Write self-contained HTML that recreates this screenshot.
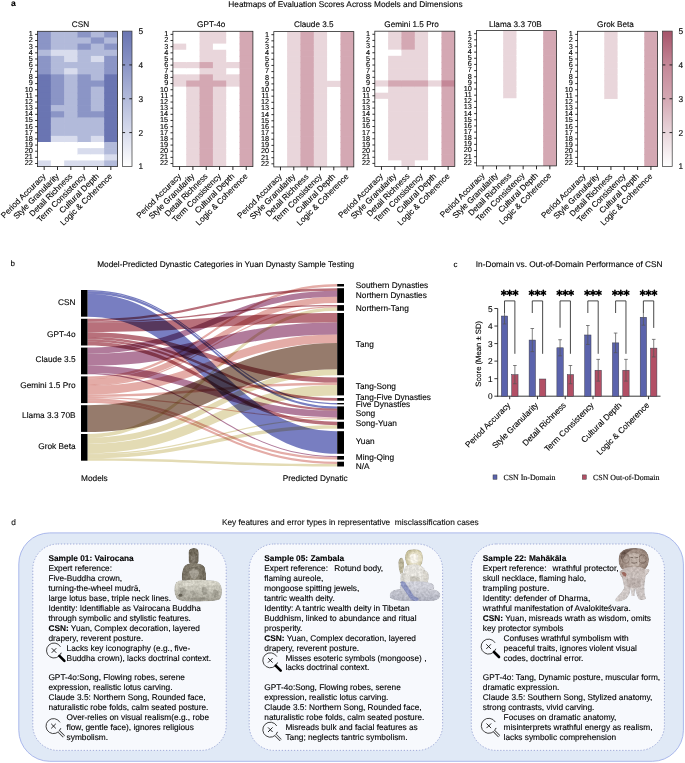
<!DOCTYPE html>
<html><head><meta charset="utf-8"><style>
html,body{margin:0;padding:0;background:#fff;}
body{width:685px;height:763px;position:relative;overflow:hidden;font-family:"Liberation Sans", sans-serif;}
svg{position:absolute;left:0;top:0;}
svg text{font-family:"Liberation Sans", sans-serif;text-rendering:geometricPrecision;stroke:#000;stroke-width:0.11px;}
</style></head><body>
<svg width="685" height="763" viewBox="0 0 685 763">
<rect x="37.50" y="31.30" width="14.03" height="6.85" fill="rgb(139,149,198)"/>
<rect x="37.50" y="37.45" width="14.03" height="6.85" fill="rgb(139,149,198)"/>
<rect x="37.50" y="43.60" width="14.03" height="6.85" fill="rgb(139,149,198)"/>
<rect x="37.50" y="49.75" width="14.03" height="6.85" fill="rgb(178,186,218)"/>
<rect x="37.50" y="55.90" width="14.03" height="6.85" fill="rgb(139,149,198)"/>
<rect x="37.50" y="62.05" width="14.03" height="6.85" fill="rgb(139,149,198)"/>
<rect x="37.50" y="68.20" width="14.03" height="6.85" fill="rgb(139,149,198)"/>
<rect x="37.50" y="74.35" width="14.03" height="6.85" fill="rgb(106,117,178)"/>
<rect x="37.50" y="80.50" width="14.03" height="6.85" fill="rgb(106,117,178)"/>
<rect x="37.50" y="86.65" width="14.03" height="6.85" fill="rgb(106,117,178)"/>
<rect x="37.50" y="92.80" width="14.03" height="6.85" fill="rgb(106,117,178)"/>
<rect x="37.50" y="98.95" width="14.03" height="6.85" fill="rgb(106,117,178)"/>
<rect x="37.50" y="105.10" width="14.03" height="6.85" fill="rgb(106,117,178)"/>
<rect x="37.50" y="111.25" width="14.03" height="6.85" fill="rgb(106,117,178)"/>
<rect x="37.50" y="117.40" width="14.03" height="6.85" fill="rgb(106,117,178)"/>
<rect x="37.50" y="123.55" width="14.03" height="6.85" fill="rgb(106,117,178)"/>
<rect x="37.50" y="129.70" width="14.03" height="6.85" fill="rgb(106,117,178)"/>
<rect x="37.50" y="135.85" width="14.03" height="6.85" fill="rgb(106,117,178)"/>
<rect x="37.50" y="142.00" width="14.03" height="6.85" fill="rgb(255,255,255)"/>
<rect x="37.50" y="148.15" width="14.03" height="6.85" fill="rgb(255,255,255)"/>
<rect x="37.50" y="154.30" width="14.03" height="6.85" fill="rgb(255,255,255)"/>
<rect x="37.50" y="160.45" width="14.03" height="6.15" fill="rgb(216,220,237)"/>
<rect x="50.83" y="31.30" width="14.03" height="6.85" fill="rgb(178,186,218)"/>
<rect x="50.83" y="37.45" width="14.03" height="6.85" fill="rgb(178,186,218)"/>
<rect x="50.83" y="43.60" width="14.03" height="6.85" fill="rgb(178,186,218)"/>
<rect x="50.83" y="49.75" width="14.03" height="6.85" fill="rgb(216,220,237)"/>
<rect x="50.83" y="55.90" width="14.03" height="6.85" fill="rgb(178,186,218)"/>
<rect x="50.83" y="62.05" width="14.03" height="6.85" fill="rgb(178,186,218)"/>
<rect x="50.83" y="68.20" width="14.03" height="6.85" fill="rgb(178,186,218)"/>
<rect x="50.83" y="74.35" width="14.03" height="6.85" fill="rgb(139,149,198)"/>
<rect x="50.83" y="80.50" width="14.03" height="6.85" fill="rgb(139,149,198)"/>
<rect x="50.83" y="86.65" width="14.03" height="6.85" fill="rgb(139,149,198)"/>
<rect x="50.83" y="92.80" width="14.03" height="6.85" fill="rgb(139,149,198)"/>
<rect x="50.83" y="98.95" width="14.03" height="6.85" fill="rgb(139,149,198)"/>
<rect x="50.83" y="105.10" width="14.03" height="6.85" fill="rgb(178,186,218)"/>
<rect x="50.83" y="111.25" width="14.03" height="6.85" fill="rgb(139,149,198)"/>
<rect x="50.83" y="117.40" width="14.03" height="6.85" fill="rgb(178,186,218)"/>
<rect x="50.83" y="123.55" width="14.03" height="6.85" fill="rgb(178,186,218)"/>
<rect x="50.83" y="129.70" width="14.03" height="6.85" fill="rgb(178,186,218)"/>
<rect x="50.83" y="135.85" width="14.03" height="6.85" fill="rgb(216,220,237)"/>
<rect x="50.83" y="142.00" width="14.03" height="6.85" fill="rgb(255,255,255)"/>
<rect x="50.83" y="148.15" width="14.03" height="6.85" fill="rgb(255,255,255)"/>
<rect x="50.83" y="154.30" width="14.03" height="6.85" fill="rgb(255,255,255)"/>
<rect x="50.83" y="160.45" width="14.03" height="6.15" fill="rgb(255,255,255)"/>
<rect x="64.17" y="31.30" width="14.03" height="6.85" fill="rgb(178,186,218)"/>
<rect x="64.17" y="37.45" width="14.03" height="6.85" fill="rgb(178,186,218)"/>
<rect x="64.17" y="43.60" width="14.03" height="6.85" fill="rgb(178,186,218)"/>
<rect x="64.17" y="49.75" width="14.03" height="6.85" fill="rgb(216,220,237)"/>
<rect x="64.17" y="55.90" width="14.03" height="6.85" fill="rgb(216,220,237)"/>
<rect x="64.17" y="62.05" width="14.03" height="6.85" fill="rgb(178,186,218)"/>
<rect x="64.17" y="68.20" width="14.03" height="6.85" fill="rgb(216,220,237)"/>
<rect x="64.17" y="74.35" width="14.03" height="6.85" fill="rgb(178,186,218)"/>
<rect x="64.17" y="80.50" width="14.03" height="6.85" fill="rgb(178,186,218)"/>
<rect x="64.17" y="86.65" width="14.03" height="6.85" fill="rgb(178,186,218)"/>
<rect x="64.17" y="92.80" width="14.03" height="6.85" fill="rgb(178,186,218)"/>
<rect x="64.17" y="98.95" width="14.03" height="6.85" fill="rgb(178,186,218)"/>
<rect x="64.17" y="105.10" width="14.03" height="6.85" fill="rgb(178,186,218)"/>
<rect x="64.17" y="111.25" width="14.03" height="6.85" fill="rgb(178,186,218)"/>
<rect x="64.17" y="117.40" width="14.03" height="6.85" fill="rgb(178,186,218)"/>
<rect x="64.17" y="123.55" width="14.03" height="6.85" fill="rgb(178,186,218)"/>
<rect x="64.17" y="129.70" width="14.03" height="6.85" fill="rgb(178,186,218)"/>
<rect x="64.17" y="135.85" width="14.03" height="6.85" fill="rgb(216,220,237)"/>
<rect x="64.17" y="142.00" width="14.03" height="6.85" fill="rgb(255,255,255)"/>
<rect x="64.17" y="148.15" width="14.03" height="6.85" fill="rgb(255,255,255)"/>
<rect x="64.17" y="154.30" width="14.03" height="6.85" fill="rgb(255,255,255)"/>
<rect x="64.17" y="160.45" width="14.03" height="6.15" fill="rgb(216,220,237)"/>
<rect x="77.50" y="31.30" width="14.03" height="6.85" fill="rgb(139,149,198)"/>
<rect x="77.50" y="37.45" width="14.03" height="6.85" fill="rgb(178,186,218)"/>
<rect x="77.50" y="43.60" width="14.03" height="6.85" fill="rgb(139,149,198)"/>
<rect x="77.50" y="49.75" width="14.03" height="6.85" fill="rgb(178,186,218)"/>
<rect x="77.50" y="55.90" width="14.03" height="6.85" fill="rgb(178,186,218)"/>
<rect x="77.50" y="62.05" width="14.03" height="6.85" fill="rgb(178,186,218)"/>
<rect x="77.50" y="68.20" width="14.03" height="6.85" fill="rgb(178,186,218)"/>
<rect x="77.50" y="74.35" width="14.03" height="6.85" fill="rgb(139,149,198)"/>
<rect x="77.50" y="80.50" width="14.03" height="6.85" fill="rgb(139,149,198)"/>
<rect x="77.50" y="86.65" width="14.03" height="6.85" fill="rgb(139,149,198)"/>
<rect x="77.50" y="92.80" width="14.03" height="6.85" fill="rgb(139,149,198)"/>
<rect x="77.50" y="98.95" width="14.03" height="6.85" fill="rgb(139,149,198)"/>
<rect x="77.50" y="105.10" width="14.03" height="6.85" fill="rgb(139,149,198)"/>
<rect x="77.50" y="111.25" width="14.03" height="6.85" fill="rgb(139,149,198)"/>
<rect x="77.50" y="117.40" width="14.03" height="6.85" fill="rgb(178,186,218)"/>
<rect x="77.50" y="123.55" width="14.03" height="6.85" fill="rgb(178,186,218)"/>
<rect x="77.50" y="129.70" width="14.03" height="6.85" fill="rgb(178,186,218)"/>
<rect x="77.50" y="135.85" width="14.03" height="6.85" fill="rgb(178,186,218)"/>
<rect x="77.50" y="142.00" width="14.03" height="6.85" fill="rgb(255,255,255)"/>
<rect x="77.50" y="148.15" width="14.03" height="6.85" fill="rgb(216,220,237)"/>
<rect x="77.50" y="154.30" width="14.03" height="6.85" fill="rgb(255,255,255)"/>
<rect x="77.50" y="160.45" width="14.03" height="6.15" fill="rgb(216,220,237)"/>
<rect x="90.83" y="31.30" width="14.03" height="6.85" fill="rgb(178,186,218)"/>
<rect x="90.83" y="37.45" width="14.03" height="6.85" fill="rgb(139,149,198)"/>
<rect x="90.83" y="43.60" width="14.03" height="6.85" fill="rgb(178,186,218)"/>
<rect x="90.83" y="49.75" width="14.03" height="6.85" fill="rgb(178,186,218)"/>
<rect x="90.83" y="55.90" width="14.03" height="6.85" fill="rgb(216,220,237)"/>
<rect x="90.83" y="62.05" width="14.03" height="6.85" fill="rgb(178,186,218)"/>
<rect x="90.83" y="68.20" width="14.03" height="6.85" fill="rgb(178,186,218)"/>
<rect x="90.83" y="74.35" width="14.03" height="6.85" fill="rgb(178,186,218)"/>
<rect x="90.83" y="80.50" width="14.03" height="6.85" fill="rgb(139,149,198)"/>
<rect x="90.83" y="86.65" width="14.03" height="6.85" fill="rgb(178,186,218)"/>
<rect x="90.83" y="92.80" width="14.03" height="6.85" fill="rgb(178,186,218)"/>
<rect x="90.83" y="98.95" width="14.03" height="6.85" fill="rgb(178,186,218)"/>
<rect x="90.83" y="105.10" width="14.03" height="6.85" fill="rgb(178,186,218)"/>
<rect x="90.83" y="111.25" width="14.03" height="6.85" fill="rgb(139,149,198)"/>
<rect x="90.83" y="117.40" width="14.03" height="6.85" fill="rgb(178,186,218)"/>
<rect x="90.83" y="123.55" width="14.03" height="6.85" fill="rgb(178,186,218)"/>
<rect x="90.83" y="129.70" width="14.03" height="6.85" fill="rgb(178,186,218)"/>
<rect x="90.83" y="135.85" width="14.03" height="6.85" fill="rgb(216,220,237)"/>
<rect x="90.83" y="142.00" width="14.03" height="6.85" fill="rgb(255,255,255)"/>
<rect x="90.83" y="148.15" width="14.03" height="6.85" fill="rgb(216,220,237)"/>
<rect x="90.83" y="154.30" width="14.03" height="6.85" fill="rgb(255,255,255)"/>
<rect x="90.83" y="160.45" width="14.03" height="6.15" fill="rgb(216,220,237)"/>
<rect x="104.17" y="31.30" width="13.33" height="6.85" fill="rgb(139,149,198)"/>
<rect x="104.17" y="37.45" width="13.33" height="6.85" fill="rgb(178,186,218)"/>
<rect x="104.17" y="43.60" width="13.33" height="6.85" fill="rgb(139,149,198)"/>
<rect x="104.17" y="49.75" width="13.33" height="6.85" fill="rgb(178,186,218)"/>
<rect x="104.17" y="55.90" width="13.33" height="6.85" fill="rgb(139,149,198)"/>
<rect x="104.17" y="62.05" width="13.33" height="6.85" fill="rgb(139,149,198)"/>
<rect x="104.17" y="68.20" width="13.33" height="6.85" fill="rgb(139,149,198)"/>
<rect x="104.17" y="74.35" width="13.33" height="6.85" fill="rgb(106,117,178)"/>
<rect x="104.17" y="80.50" width="13.33" height="6.85" fill="rgb(106,117,178)"/>
<rect x="104.17" y="86.65" width="13.33" height="6.85" fill="rgb(106,117,178)"/>
<rect x="104.17" y="92.80" width="13.33" height="6.85" fill="rgb(106,117,178)"/>
<rect x="104.17" y="98.95" width="13.33" height="6.85" fill="rgb(106,117,178)"/>
<rect x="104.17" y="105.10" width="13.33" height="6.85" fill="rgb(106,117,178)"/>
<rect x="104.17" y="111.25" width="13.33" height="6.85" fill="rgb(106,117,178)"/>
<rect x="104.17" y="117.40" width="13.33" height="6.85" fill="rgb(106,117,178)"/>
<rect x="104.17" y="123.55" width="13.33" height="6.85" fill="rgb(106,117,178)"/>
<rect x="104.17" y="129.70" width="13.33" height="6.85" fill="rgb(106,117,178)"/>
<rect x="104.17" y="135.85" width="13.33" height="6.85" fill="rgb(106,117,178)"/>
<rect x="104.17" y="142.00" width="13.33" height="6.85" fill="rgb(178,186,218)"/>
<rect x="104.17" y="148.15" width="13.33" height="6.85" fill="rgb(178,186,218)"/>
<rect x="104.17" y="154.30" width="13.33" height="6.85" fill="rgb(216,220,237)"/>
<rect x="104.17" y="160.45" width="13.33" height="6.15" fill="rgb(178,186,218)"/>
<rect x="37.50" y="31.30" width="80.0" height="135.3" fill="none" stroke="#2a2a2a" stroke-width="0.8"/>
<text x="80.50" y="27.00" font-size="8.2" text-anchor="middle" font-weight="normal" fill="#000" >CSN</text>
<line x1="35.10" y1="34.38" x2="37.50" y2="34.38" stroke="#111" stroke-width="0.85"/>
<text x="32.80" y="36.27" font-size="7.3" text-anchor="end" font-weight="normal" fill="#000" >1</text>
<line x1="35.10" y1="40.53" x2="37.50" y2="40.53" stroke="#111" stroke-width="0.85"/>
<text x="32.80" y="42.43" font-size="7.3" text-anchor="end" font-weight="normal" fill="#000" >2</text>
<line x1="35.10" y1="46.67" x2="37.50" y2="46.67" stroke="#111" stroke-width="0.85"/>
<text x="32.80" y="48.57" font-size="7.3" text-anchor="end" font-weight="normal" fill="#000" >3</text>
<line x1="35.10" y1="52.83" x2="37.50" y2="52.83" stroke="#111" stroke-width="0.85"/>
<text x="32.80" y="54.73" font-size="7.3" text-anchor="end" font-weight="normal" fill="#000" >4</text>
<line x1="35.10" y1="58.98" x2="37.50" y2="58.98" stroke="#111" stroke-width="0.85"/>
<text x="32.80" y="60.88" font-size="7.3" text-anchor="end" font-weight="normal" fill="#000" >5</text>
<line x1="35.10" y1="65.12" x2="37.50" y2="65.12" stroke="#111" stroke-width="0.85"/>
<text x="32.80" y="67.03" font-size="7.3" text-anchor="end" font-weight="normal" fill="#000" >6</text>
<line x1="35.10" y1="71.28" x2="37.50" y2="71.28" stroke="#111" stroke-width="0.85"/>
<text x="32.80" y="73.18" font-size="7.3" text-anchor="end" font-weight="normal" fill="#000" >7</text>
<line x1="35.10" y1="77.42" x2="37.50" y2="77.42" stroke="#111" stroke-width="0.85"/>
<text x="32.80" y="79.33" font-size="7.3" text-anchor="end" font-weight="normal" fill="#000" >8</text>
<line x1="35.10" y1="83.58" x2="37.50" y2="83.58" stroke="#111" stroke-width="0.85"/>
<text x="32.80" y="85.48" font-size="7.3" text-anchor="end" font-weight="normal" fill="#000" >9</text>
<line x1="35.10" y1="89.73" x2="37.50" y2="89.73" stroke="#111" stroke-width="0.85"/>
<text x="32.80" y="91.63" font-size="7.3" text-anchor="end" font-weight="normal" fill="#000" >10</text>
<line x1="35.10" y1="95.88" x2="37.50" y2="95.88" stroke="#111" stroke-width="0.85"/>
<text x="32.80" y="97.78" font-size="7.3" text-anchor="end" font-weight="normal" fill="#000" >11</text>
<line x1="35.10" y1="102.03" x2="37.50" y2="102.03" stroke="#111" stroke-width="0.85"/>
<text x="32.80" y="103.93" font-size="7.3" text-anchor="end" font-weight="normal" fill="#000" >12</text>
<line x1="35.10" y1="108.17" x2="37.50" y2="108.17" stroke="#111" stroke-width="0.85"/>
<text x="32.80" y="110.08" font-size="7.3" text-anchor="end" font-weight="normal" fill="#000" >13</text>
<line x1="35.10" y1="114.33" x2="37.50" y2="114.33" stroke="#111" stroke-width="0.85"/>
<text x="32.80" y="116.23" font-size="7.3" text-anchor="end" font-weight="normal" fill="#000" >14</text>
<line x1="35.10" y1="120.48" x2="37.50" y2="120.48" stroke="#111" stroke-width="0.85"/>
<text x="32.80" y="122.38" font-size="7.3" text-anchor="end" font-weight="normal" fill="#000" >15</text>
<line x1="35.10" y1="126.62" x2="37.50" y2="126.62" stroke="#111" stroke-width="0.85"/>
<text x="32.80" y="128.53" font-size="7.3" text-anchor="end" font-weight="normal" fill="#000" >16</text>
<line x1="35.10" y1="132.78" x2="37.50" y2="132.78" stroke="#111" stroke-width="0.85"/>
<text x="32.80" y="134.68" font-size="7.3" text-anchor="end" font-weight="normal" fill="#000" >17</text>
<line x1="35.10" y1="138.93" x2="37.50" y2="138.93" stroke="#111" stroke-width="0.85"/>
<text x="32.80" y="140.83" font-size="7.3" text-anchor="end" font-weight="normal" fill="#000" >18</text>
<line x1="35.10" y1="145.08" x2="37.50" y2="145.08" stroke="#111" stroke-width="0.85"/>
<text x="32.80" y="146.98" font-size="7.3" text-anchor="end" font-weight="normal" fill="#000" >19</text>
<line x1="35.10" y1="151.23" x2="37.50" y2="151.23" stroke="#111" stroke-width="0.85"/>
<text x="32.80" y="153.13" font-size="7.3" text-anchor="end" font-weight="normal" fill="#000" >20</text>
<line x1="35.10" y1="157.38" x2="37.50" y2="157.38" stroke="#111" stroke-width="0.85"/>
<text x="32.80" y="159.28" font-size="7.3" text-anchor="end" font-weight="normal" fill="#000" >21</text>
<line x1="35.10" y1="163.53" x2="37.50" y2="163.53" stroke="#111" stroke-width="0.85"/>
<text x="32.80" y="165.43" font-size="7.3" text-anchor="end" font-weight="normal" fill="#000" >22</text>
<line x1="44.17" y1="166.60" x2="44.17" y2="170.00" stroke="#111" stroke-width="0.9"/>
<text x="46.17" y="176.80" font-size="8.2" text-anchor="end" font-weight="normal" fill="#000" transform="rotate(-45 46.17 176.80)">Period Accuracy</text>
<line x1="57.50" y1="166.60" x2="57.50" y2="170.00" stroke="#111" stroke-width="0.9"/>
<text x="59.50" y="176.80" font-size="8.2" text-anchor="end" font-weight="normal" fill="#000" transform="rotate(-45 59.50 176.80)">Style Granularity</text>
<line x1="70.83" y1="166.60" x2="70.83" y2="170.00" stroke="#111" stroke-width="0.9"/>
<text x="72.83" y="176.80" font-size="8.2" text-anchor="end" font-weight="normal" fill="#000" transform="rotate(-45 72.83 176.80)">Detail Richness</text>
<line x1="84.17" y1="166.60" x2="84.17" y2="170.00" stroke="#111" stroke-width="0.9"/>
<text x="86.17" y="176.80" font-size="8.2" text-anchor="end" font-weight="normal" fill="#000" transform="rotate(-45 86.17 176.80)">Term Consistency</text>
<line x1="97.50" y1="166.60" x2="97.50" y2="170.00" stroke="#111" stroke-width="0.9"/>
<text x="99.50" y="176.80" font-size="8.2" text-anchor="end" font-weight="normal" fill="#000" transform="rotate(-45 99.50 176.80)">Cultural Depth</text>
<line x1="110.83" y1="166.60" x2="110.83" y2="170.00" stroke="#111" stroke-width="0.9"/>
<text x="112.83" y="176.80" font-size="8.2" text-anchor="end" font-weight="normal" fill="#000" transform="rotate(-45 112.83 176.80)">Logic &amp; Coherence</text>
<rect x="172.90" y="31.30" width="14.03" height="6.85" fill="rgb(255,255,255)"/>
<rect x="172.90" y="37.45" width="14.03" height="6.85" fill="rgb(255,255,255)"/>
<rect x="172.90" y="43.60" width="14.03" height="6.85" fill="rgb(233,214,219)"/>
<rect x="172.90" y="49.75" width="14.03" height="6.85" fill="rgb(255,255,255)"/>
<rect x="172.90" y="55.90" width="14.03" height="6.85" fill="rgb(255,255,255)"/>
<rect x="172.90" y="62.05" width="14.03" height="6.85" fill="rgb(233,214,219)"/>
<rect x="172.90" y="68.20" width="14.03" height="6.85" fill="rgb(255,255,255)"/>
<rect x="172.90" y="74.35" width="14.03" height="6.85" fill="rgb(233,214,219)"/>
<rect x="172.90" y="80.50" width="14.03" height="6.85" fill="rgb(233,214,219)"/>
<rect x="172.90" y="86.65" width="14.03" height="6.85" fill="rgb(255,255,255)"/>
<rect x="172.90" y="92.80" width="14.03" height="6.85" fill="rgb(255,255,255)"/>
<rect x="172.90" y="98.95" width="14.03" height="6.85" fill="rgb(255,255,255)"/>
<rect x="172.90" y="105.10" width="14.03" height="6.85" fill="rgb(255,255,255)"/>
<rect x="172.90" y="111.25" width="14.03" height="6.85" fill="rgb(255,255,255)"/>
<rect x="172.90" y="117.40" width="14.03" height="6.85" fill="rgb(255,255,255)"/>
<rect x="172.90" y="123.55" width="14.03" height="6.85" fill="rgb(255,255,255)"/>
<rect x="172.90" y="129.70" width="14.03" height="6.85" fill="rgb(255,255,255)"/>
<rect x="172.90" y="135.85" width="14.03" height="6.85" fill="rgb(255,255,255)"/>
<rect x="172.90" y="142.00" width="14.03" height="6.85" fill="rgb(255,255,255)"/>
<rect x="172.90" y="148.15" width="14.03" height="6.85" fill="rgb(255,255,255)"/>
<rect x="172.90" y="154.30" width="14.03" height="6.85" fill="rgb(255,255,255)"/>
<rect x="172.90" y="160.45" width="14.03" height="6.15" fill="rgb(255,255,255)"/>
<rect x="186.23" y="31.30" width="14.03" height="6.85" fill="rgb(255,255,255)"/>
<rect x="186.23" y="37.45" width="14.03" height="6.85" fill="rgb(255,255,255)"/>
<rect x="186.23" y="43.60" width="14.03" height="6.85" fill="rgb(255,255,255)"/>
<rect x="186.23" y="49.75" width="14.03" height="6.85" fill="rgb(255,255,255)"/>
<rect x="186.23" y="55.90" width="14.03" height="6.85" fill="rgb(255,255,255)"/>
<rect x="186.23" y="62.05" width="14.03" height="6.85" fill="rgb(233,214,219)"/>
<rect x="186.23" y="68.20" width="14.03" height="6.85" fill="rgb(255,255,255)"/>
<rect x="186.23" y="74.35" width="14.03" height="6.85" fill="rgb(233,214,219)"/>
<rect x="186.23" y="80.50" width="14.03" height="6.85" fill="rgb(212,168,179)"/>
<rect x="186.23" y="86.65" width="14.03" height="6.85" fill="rgb(233,214,219)"/>
<rect x="186.23" y="92.80" width="14.03" height="6.85" fill="rgb(233,214,219)"/>
<rect x="186.23" y="98.95" width="14.03" height="6.85" fill="rgb(233,214,219)"/>
<rect x="186.23" y="105.10" width="14.03" height="6.85" fill="rgb(233,214,219)"/>
<rect x="186.23" y="111.25" width="14.03" height="6.85" fill="rgb(233,214,219)"/>
<rect x="186.23" y="117.40" width="14.03" height="6.85" fill="rgb(233,214,219)"/>
<rect x="186.23" y="123.55" width="14.03" height="6.85" fill="rgb(233,214,219)"/>
<rect x="186.23" y="129.70" width="14.03" height="6.85" fill="rgb(233,214,219)"/>
<rect x="186.23" y="135.85" width="14.03" height="6.85" fill="rgb(233,214,219)"/>
<rect x="186.23" y="142.00" width="14.03" height="6.85" fill="rgb(233,214,219)"/>
<rect x="186.23" y="148.15" width="14.03" height="6.85" fill="rgb(233,214,219)"/>
<rect x="186.23" y="154.30" width="14.03" height="6.85" fill="rgb(233,214,219)"/>
<rect x="186.23" y="160.45" width="14.03" height="6.15" fill="rgb(233,214,219)"/>
<rect x="199.57" y="31.30" width="14.03" height="6.85" fill="rgb(233,214,219)"/>
<rect x="199.57" y="37.45" width="14.03" height="6.85" fill="rgb(233,214,219)"/>
<rect x="199.57" y="43.60" width="14.03" height="6.85" fill="rgb(233,214,219)"/>
<rect x="199.57" y="49.75" width="14.03" height="6.85" fill="rgb(233,214,219)"/>
<rect x="199.57" y="55.90" width="14.03" height="6.85" fill="rgb(233,214,219)"/>
<rect x="199.57" y="62.05" width="14.03" height="6.85" fill="rgb(212,168,179)"/>
<rect x="199.57" y="68.20" width="14.03" height="6.85" fill="rgb(233,214,219)"/>
<rect x="199.57" y="74.35" width="14.03" height="6.85" fill="rgb(212,168,179)"/>
<rect x="199.57" y="80.50" width="14.03" height="6.85" fill="rgb(212,168,179)"/>
<rect x="199.57" y="86.65" width="14.03" height="6.85" fill="rgb(212,168,179)"/>
<rect x="199.57" y="92.80" width="14.03" height="6.85" fill="rgb(212,168,179)"/>
<rect x="199.57" y="98.95" width="14.03" height="6.85" fill="rgb(212,168,179)"/>
<rect x="199.57" y="105.10" width="14.03" height="6.85" fill="rgb(212,168,179)"/>
<rect x="199.57" y="111.25" width="14.03" height="6.85" fill="rgb(212,168,179)"/>
<rect x="199.57" y="117.40" width="14.03" height="6.85" fill="rgb(212,168,179)"/>
<rect x="199.57" y="123.55" width="14.03" height="6.85" fill="rgb(212,168,179)"/>
<rect x="199.57" y="129.70" width="14.03" height="6.85" fill="rgb(212,168,179)"/>
<rect x="199.57" y="135.85" width="14.03" height="6.85" fill="rgb(212,168,179)"/>
<rect x="199.57" y="142.00" width="14.03" height="6.85" fill="rgb(212,168,179)"/>
<rect x="199.57" y="148.15" width="14.03" height="6.85" fill="rgb(212,168,179)"/>
<rect x="199.57" y="154.30" width="14.03" height="6.85" fill="rgb(212,168,179)"/>
<rect x="199.57" y="160.45" width="14.03" height="6.15" fill="rgb(212,168,179)"/>
<rect x="212.90" y="31.30" width="14.03" height="6.85" fill="rgb(233,214,219)"/>
<rect x="212.90" y="37.45" width="14.03" height="6.85" fill="rgb(233,214,219)"/>
<rect x="212.90" y="43.60" width="14.03" height="6.85" fill="rgb(255,255,255)"/>
<rect x="212.90" y="49.75" width="14.03" height="6.85" fill="rgb(233,214,219)"/>
<rect x="212.90" y="55.90" width="14.03" height="6.85" fill="rgb(233,214,219)"/>
<rect x="212.90" y="62.05" width="14.03" height="6.85" fill="rgb(233,214,219)"/>
<rect x="212.90" y="68.20" width="14.03" height="6.85" fill="rgb(233,214,219)"/>
<rect x="212.90" y="74.35" width="14.03" height="6.85" fill="rgb(233,214,219)"/>
<rect x="212.90" y="80.50" width="14.03" height="6.85" fill="rgb(212,168,179)"/>
<rect x="212.90" y="86.65" width="14.03" height="6.85" fill="rgb(233,214,219)"/>
<rect x="212.90" y="92.80" width="14.03" height="6.85" fill="rgb(233,214,219)"/>
<rect x="212.90" y="98.95" width="14.03" height="6.85" fill="rgb(233,214,219)"/>
<rect x="212.90" y="105.10" width="14.03" height="6.85" fill="rgb(233,214,219)"/>
<rect x="212.90" y="111.25" width="14.03" height="6.85" fill="rgb(233,214,219)"/>
<rect x="212.90" y="117.40" width="14.03" height="6.85" fill="rgb(233,214,219)"/>
<rect x="212.90" y="123.55" width="14.03" height="6.85" fill="rgb(233,214,219)"/>
<rect x="212.90" y="129.70" width="14.03" height="6.85" fill="rgb(233,214,219)"/>
<rect x="212.90" y="135.85" width="14.03" height="6.85" fill="rgb(233,214,219)"/>
<rect x="212.90" y="142.00" width="14.03" height="6.85" fill="rgb(233,214,219)"/>
<rect x="212.90" y="148.15" width="14.03" height="6.85" fill="rgb(233,214,219)"/>
<rect x="212.90" y="154.30" width="14.03" height="6.85" fill="rgb(233,214,219)"/>
<rect x="212.90" y="160.45" width="14.03" height="6.15" fill="rgb(233,214,219)"/>
<rect x="226.23" y="31.30" width="14.03" height="6.85" fill="rgb(255,255,255)"/>
<rect x="226.23" y="37.45" width="14.03" height="6.85" fill="rgb(255,255,255)"/>
<rect x="226.23" y="43.60" width="14.03" height="6.85" fill="rgb(255,255,255)"/>
<rect x="226.23" y="49.75" width="14.03" height="6.85" fill="rgb(255,255,255)"/>
<rect x="226.23" y="55.90" width="14.03" height="6.85" fill="rgb(255,255,255)"/>
<rect x="226.23" y="62.05" width="14.03" height="6.85" fill="rgb(233,214,219)"/>
<rect x="226.23" y="68.20" width="14.03" height="6.85" fill="rgb(255,255,255)"/>
<rect x="226.23" y="74.35" width="14.03" height="6.85" fill="rgb(233,214,219)"/>
<rect x="226.23" y="80.50" width="14.03" height="6.85" fill="rgb(233,214,219)"/>
<rect x="226.23" y="86.65" width="14.03" height="6.85" fill="rgb(255,255,255)"/>
<rect x="226.23" y="92.80" width="14.03" height="6.85" fill="rgb(255,255,255)"/>
<rect x="226.23" y="98.95" width="14.03" height="6.85" fill="rgb(255,255,255)"/>
<rect x="226.23" y="105.10" width="14.03" height="6.85" fill="rgb(255,255,255)"/>
<rect x="226.23" y="111.25" width="14.03" height="6.85" fill="rgb(255,255,255)"/>
<rect x="226.23" y="117.40" width="14.03" height="6.85" fill="rgb(255,255,255)"/>
<rect x="226.23" y="123.55" width="14.03" height="6.85" fill="rgb(255,255,255)"/>
<rect x="226.23" y="129.70" width="14.03" height="6.85" fill="rgb(255,255,255)"/>
<rect x="226.23" y="135.85" width="14.03" height="6.85" fill="rgb(255,255,255)"/>
<rect x="226.23" y="142.00" width="14.03" height="6.85" fill="rgb(255,255,255)"/>
<rect x="226.23" y="148.15" width="14.03" height="6.85" fill="rgb(255,255,255)"/>
<rect x="226.23" y="154.30" width="14.03" height="6.85" fill="rgb(255,255,255)"/>
<rect x="226.23" y="160.45" width="14.03" height="6.15" fill="rgb(255,255,255)"/>
<rect x="239.57" y="31.30" width="13.33" height="6.85" fill="rgb(212,168,179)"/>
<rect x="239.57" y="37.45" width="13.33" height="6.85" fill="rgb(212,168,179)"/>
<rect x="239.57" y="43.60" width="13.33" height="6.85" fill="rgb(212,168,179)"/>
<rect x="239.57" y="49.75" width="13.33" height="6.85" fill="rgb(212,168,179)"/>
<rect x="239.57" y="55.90" width="13.33" height="6.85" fill="rgb(212,168,179)"/>
<rect x="239.57" y="62.05" width="13.33" height="6.85" fill="rgb(212,168,179)"/>
<rect x="239.57" y="68.20" width="13.33" height="6.85" fill="rgb(212,168,179)"/>
<rect x="239.57" y="74.35" width="13.33" height="6.85" fill="rgb(212,168,179)"/>
<rect x="239.57" y="80.50" width="13.33" height="6.85" fill="rgb(212,168,179)"/>
<rect x="239.57" y="86.65" width="13.33" height="6.85" fill="rgb(212,168,179)"/>
<rect x="239.57" y="92.80" width="13.33" height="6.85" fill="rgb(212,168,179)"/>
<rect x="239.57" y="98.95" width="13.33" height="6.85" fill="rgb(212,168,179)"/>
<rect x="239.57" y="105.10" width="13.33" height="6.85" fill="rgb(212,168,179)"/>
<rect x="239.57" y="111.25" width="13.33" height="6.85" fill="rgb(212,168,179)"/>
<rect x="239.57" y="117.40" width="13.33" height="6.85" fill="rgb(212,168,179)"/>
<rect x="239.57" y="123.55" width="13.33" height="6.85" fill="rgb(212,168,179)"/>
<rect x="239.57" y="129.70" width="13.33" height="6.85" fill="rgb(212,168,179)"/>
<rect x="239.57" y="135.85" width="13.33" height="6.85" fill="rgb(212,168,179)"/>
<rect x="239.57" y="142.00" width="13.33" height="6.85" fill="rgb(212,168,179)"/>
<rect x="239.57" y="148.15" width="13.33" height="6.85" fill="rgb(212,168,179)"/>
<rect x="239.57" y="154.30" width="13.33" height="6.85" fill="rgb(212,168,179)"/>
<rect x="239.57" y="160.45" width="13.33" height="6.15" fill="rgb(212,168,179)"/>
<rect x="172.90" y="31.30" width="80.0" height="135.3" fill="none" stroke="#2a2a2a" stroke-width="0.8"/>
<text x="211.20" y="27.00" font-size="8.2" text-anchor="middle" font-weight="normal" fill="#000" >GPT-4o</text>
<line x1="170.50" y1="34.38" x2="172.90" y2="34.38" stroke="#111" stroke-width="0.85"/>
<text x="168.20" y="36.27" font-size="7.3" text-anchor="end" font-weight="normal" fill="#000" >1</text>
<line x1="170.50" y1="40.53" x2="172.90" y2="40.53" stroke="#111" stroke-width="0.85"/>
<text x="168.20" y="42.43" font-size="7.3" text-anchor="end" font-weight="normal" fill="#000" >2</text>
<line x1="170.50" y1="46.67" x2="172.90" y2="46.67" stroke="#111" stroke-width="0.85"/>
<text x="168.20" y="48.57" font-size="7.3" text-anchor="end" font-weight="normal" fill="#000" >3</text>
<line x1="170.50" y1="52.83" x2="172.90" y2="52.83" stroke="#111" stroke-width="0.85"/>
<text x="168.20" y="54.73" font-size="7.3" text-anchor="end" font-weight="normal" fill="#000" >4</text>
<line x1="170.50" y1="58.98" x2="172.90" y2="58.98" stroke="#111" stroke-width="0.85"/>
<text x="168.20" y="60.88" font-size="7.3" text-anchor="end" font-weight="normal" fill="#000" >5</text>
<line x1="170.50" y1="65.12" x2="172.90" y2="65.12" stroke="#111" stroke-width="0.85"/>
<text x="168.20" y="67.03" font-size="7.3" text-anchor="end" font-weight="normal" fill="#000" >6</text>
<line x1="170.50" y1="71.28" x2="172.90" y2="71.28" stroke="#111" stroke-width="0.85"/>
<text x="168.20" y="73.18" font-size="7.3" text-anchor="end" font-weight="normal" fill="#000" >7</text>
<line x1="170.50" y1="77.42" x2="172.90" y2="77.42" stroke="#111" stroke-width="0.85"/>
<text x="168.20" y="79.33" font-size="7.3" text-anchor="end" font-weight="normal" fill="#000" >8</text>
<line x1="170.50" y1="83.58" x2="172.90" y2="83.58" stroke="#111" stroke-width="0.85"/>
<text x="168.20" y="85.48" font-size="7.3" text-anchor="end" font-weight="normal" fill="#000" >9</text>
<line x1="170.50" y1="89.73" x2="172.90" y2="89.73" stroke="#111" stroke-width="0.85"/>
<text x="168.20" y="91.63" font-size="7.3" text-anchor="end" font-weight="normal" fill="#000" >10</text>
<line x1="170.50" y1="95.88" x2="172.90" y2="95.88" stroke="#111" stroke-width="0.85"/>
<text x="168.20" y="97.78" font-size="7.3" text-anchor="end" font-weight="normal" fill="#000" >11</text>
<line x1="170.50" y1="102.03" x2="172.90" y2="102.03" stroke="#111" stroke-width="0.85"/>
<text x="168.20" y="103.93" font-size="7.3" text-anchor="end" font-weight="normal" fill="#000" >12</text>
<line x1="170.50" y1="108.17" x2="172.90" y2="108.17" stroke="#111" stroke-width="0.85"/>
<text x="168.20" y="110.08" font-size="7.3" text-anchor="end" font-weight="normal" fill="#000" >13</text>
<line x1="170.50" y1="114.33" x2="172.90" y2="114.33" stroke="#111" stroke-width="0.85"/>
<text x="168.20" y="116.23" font-size="7.3" text-anchor="end" font-weight="normal" fill="#000" >14</text>
<line x1="170.50" y1="120.48" x2="172.90" y2="120.48" stroke="#111" stroke-width="0.85"/>
<text x="168.20" y="122.38" font-size="7.3" text-anchor="end" font-weight="normal" fill="#000" >15</text>
<line x1="170.50" y1="126.62" x2="172.90" y2="126.62" stroke="#111" stroke-width="0.85"/>
<text x="168.20" y="128.53" font-size="7.3" text-anchor="end" font-weight="normal" fill="#000" >16</text>
<line x1="170.50" y1="132.78" x2="172.90" y2="132.78" stroke="#111" stroke-width="0.85"/>
<text x="168.20" y="134.68" font-size="7.3" text-anchor="end" font-weight="normal" fill="#000" >17</text>
<line x1="170.50" y1="138.93" x2="172.90" y2="138.93" stroke="#111" stroke-width="0.85"/>
<text x="168.20" y="140.83" font-size="7.3" text-anchor="end" font-weight="normal" fill="#000" >18</text>
<line x1="170.50" y1="145.08" x2="172.90" y2="145.08" stroke="#111" stroke-width="0.85"/>
<text x="168.20" y="146.98" font-size="7.3" text-anchor="end" font-weight="normal" fill="#000" >19</text>
<line x1="170.50" y1="151.23" x2="172.90" y2="151.23" stroke="#111" stroke-width="0.85"/>
<text x="168.20" y="153.13" font-size="7.3" text-anchor="end" font-weight="normal" fill="#000" >20</text>
<line x1="170.50" y1="157.38" x2="172.90" y2="157.38" stroke="#111" stroke-width="0.85"/>
<text x="168.20" y="159.28" font-size="7.3" text-anchor="end" font-weight="normal" fill="#000" >21</text>
<line x1="170.50" y1="163.53" x2="172.90" y2="163.53" stroke="#111" stroke-width="0.85"/>
<text x="168.20" y="165.43" font-size="7.3" text-anchor="end" font-weight="normal" fill="#000" >22</text>
<line x1="179.57" y1="166.60" x2="179.57" y2="170.00" stroke="#111" stroke-width="0.9"/>
<text x="181.57" y="176.80" font-size="8.2" text-anchor="end" font-weight="normal" fill="#000" transform="rotate(-45 181.57 176.80)">Period Accuracy</text>
<line x1="192.90" y1="166.60" x2="192.90" y2="170.00" stroke="#111" stroke-width="0.9"/>
<text x="194.90" y="176.80" font-size="8.2" text-anchor="end" font-weight="normal" fill="#000" transform="rotate(-45 194.90 176.80)">Style Granularity</text>
<line x1="206.23" y1="166.60" x2="206.23" y2="170.00" stroke="#111" stroke-width="0.9"/>
<text x="208.23" y="176.80" font-size="8.2" text-anchor="end" font-weight="normal" fill="#000" transform="rotate(-45 208.23 176.80)">Detail Richness</text>
<line x1="219.57" y1="166.60" x2="219.57" y2="170.00" stroke="#111" stroke-width="0.9"/>
<text x="221.57" y="176.80" font-size="8.2" text-anchor="end" font-weight="normal" fill="#000" transform="rotate(-45 221.57 176.80)">Term Consistency</text>
<line x1="232.90" y1="166.60" x2="232.90" y2="170.00" stroke="#111" stroke-width="0.9"/>
<text x="234.90" y="176.80" font-size="8.2" text-anchor="end" font-weight="normal" fill="#000" transform="rotate(-45 234.90 176.80)">Cultural Depth</text>
<line x1="246.23" y1="166.60" x2="246.23" y2="170.00" stroke="#111" stroke-width="0.9"/>
<text x="248.23" y="176.80" font-size="8.2" text-anchor="end" font-weight="normal" fill="#000" transform="rotate(-45 248.23 176.80)">Logic &amp; Coherence</text>
<rect x="273.80" y="31.60" width="14.03" height="6.85" fill="rgb(255,255,255)"/>
<rect x="273.80" y="37.75" width="14.03" height="6.85" fill="rgb(255,255,255)"/>
<rect x="273.80" y="43.90" width="14.03" height="6.85" fill="rgb(255,255,255)"/>
<rect x="273.80" y="50.05" width="14.03" height="6.85" fill="rgb(255,255,255)"/>
<rect x="273.80" y="56.20" width="14.03" height="6.85" fill="rgb(255,255,255)"/>
<rect x="273.80" y="62.35" width="14.03" height="6.85" fill="rgb(255,255,255)"/>
<rect x="273.80" y="68.50" width="14.03" height="6.85" fill="rgb(255,255,255)"/>
<rect x="273.80" y="74.65" width="14.03" height="6.85" fill="rgb(255,255,255)"/>
<rect x="273.80" y="80.80" width="14.03" height="6.85" fill="rgb(255,255,255)"/>
<rect x="273.80" y="86.95" width="14.03" height="6.85" fill="rgb(255,255,255)"/>
<rect x="273.80" y="93.10" width="14.03" height="6.85" fill="rgb(255,255,255)"/>
<rect x="273.80" y="99.25" width="14.03" height="6.85" fill="rgb(255,255,255)"/>
<rect x="273.80" y="105.40" width="14.03" height="6.85" fill="rgb(255,255,255)"/>
<rect x="273.80" y="111.55" width="14.03" height="6.85" fill="rgb(255,255,255)"/>
<rect x="273.80" y="117.70" width="14.03" height="6.85" fill="rgb(255,255,255)"/>
<rect x="273.80" y="123.85" width="14.03" height="6.85" fill="rgb(255,255,255)"/>
<rect x="273.80" y="130.00" width="14.03" height="6.85" fill="rgb(255,255,255)"/>
<rect x="273.80" y="136.15" width="14.03" height="6.85" fill="rgb(255,255,255)"/>
<rect x="273.80" y="142.30" width="14.03" height="6.85" fill="rgb(255,255,255)"/>
<rect x="273.80" y="148.45" width="14.03" height="6.85" fill="rgb(255,255,255)"/>
<rect x="273.80" y="154.60" width="14.03" height="6.85" fill="rgb(255,255,255)"/>
<rect x="273.80" y="160.75" width="14.03" height="6.15" fill="rgb(255,255,255)"/>
<rect x="287.13" y="31.60" width="14.03" height="6.85" fill="rgb(233,214,219)"/>
<rect x="287.13" y="37.75" width="14.03" height="6.85" fill="rgb(233,214,219)"/>
<rect x="287.13" y="43.90" width="14.03" height="6.85" fill="rgb(233,214,219)"/>
<rect x="287.13" y="50.05" width="14.03" height="6.85" fill="rgb(233,214,219)"/>
<rect x="287.13" y="56.20" width="14.03" height="6.85" fill="rgb(233,214,219)"/>
<rect x="287.13" y="62.35" width="14.03" height="6.85" fill="rgb(233,214,219)"/>
<rect x="287.13" y="68.50" width="14.03" height="6.85" fill="rgb(233,214,219)"/>
<rect x="287.13" y="74.65" width="14.03" height="6.85" fill="rgb(233,214,219)"/>
<rect x="287.13" y="80.80" width="14.03" height="6.85" fill="rgb(233,214,219)"/>
<rect x="287.13" y="86.95" width="14.03" height="6.85" fill="rgb(233,214,219)"/>
<rect x="287.13" y="93.10" width="14.03" height="6.85" fill="rgb(233,214,219)"/>
<rect x="287.13" y="99.25" width="14.03" height="6.85" fill="rgb(233,214,219)"/>
<rect x="287.13" y="105.40" width="14.03" height="6.85" fill="rgb(233,214,219)"/>
<rect x="287.13" y="111.55" width="14.03" height="6.85" fill="rgb(233,214,219)"/>
<rect x="287.13" y="117.70" width="14.03" height="6.85" fill="rgb(233,214,219)"/>
<rect x="287.13" y="123.85" width="14.03" height="6.85" fill="rgb(233,214,219)"/>
<rect x="287.13" y="130.00" width="14.03" height="6.85" fill="rgb(233,214,219)"/>
<rect x="287.13" y="136.15" width="14.03" height="6.85" fill="rgb(233,214,219)"/>
<rect x="287.13" y="142.30" width="14.03" height="6.85" fill="rgb(233,214,219)"/>
<rect x="287.13" y="148.45" width="14.03" height="6.85" fill="rgb(233,214,219)"/>
<rect x="287.13" y="154.60" width="14.03" height="6.85" fill="rgb(233,214,219)"/>
<rect x="287.13" y="160.75" width="14.03" height="6.15" fill="rgb(233,214,219)"/>
<rect x="300.47" y="31.60" width="14.03" height="6.85" fill="rgb(212,168,179)"/>
<rect x="300.47" y="37.75" width="14.03" height="6.85" fill="rgb(212,168,179)"/>
<rect x="300.47" y="43.90" width="14.03" height="6.85" fill="rgb(212,168,179)"/>
<rect x="300.47" y="50.05" width="14.03" height="6.85" fill="rgb(212,168,179)"/>
<rect x="300.47" y="56.20" width="14.03" height="6.85" fill="rgb(212,168,179)"/>
<rect x="300.47" y="62.35" width="14.03" height="6.85" fill="rgb(212,168,179)"/>
<rect x="300.47" y="68.50" width="14.03" height="6.85" fill="rgb(212,168,179)"/>
<rect x="300.47" y="74.65" width="14.03" height="6.85" fill="rgb(212,168,179)"/>
<rect x="300.47" y="80.80" width="14.03" height="6.85" fill="rgb(212,168,179)"/>
<rect x="300.47" y="86.95" width="14.03" height="6.85" fill="rgb(212,168,179)"/>
<rect x="300.47" y="93.10" width="14.03" height="6.85" fill="rgb(212,168,179)"/>
<rect x="300.47" y="99.25" width="14.03" height="6.85" fill="rgb(212,168,179)"/>
<rect x="300.47" y="105.40" width="14.03" height="6.85" fill="rgb(212,168,179)"/>
<rect x="300.47" y="111.55" width="14.03" height="6.85" fill="rgb(212,168,179)"/>
<rect x="300.47" y="117.70" width="14.03" height="6.85" fill="rgb(212,168,179)"/>
<rect x="300.47" y="123.85" width="14.03" height="6.85" fill="rgb(212,168,179)"/>
<rect x="300.47" y="130.00" width="14.03" height="6.85" fill="rgb(212,168,179)"/>
<rect x="300.47" y="136.15" width="14.03" height="6.85" fill="rgb(212,168,179)"/>
<rect x="300.47" y="142.30" width="14.03" height="6.85" fill="rgb(212,168,179)"/>
<rect x="300.47" y="148.45" width="14.03" height="6.85" fill="rgb(212,168,179)"/>
<rect x="300.47" y="154.60" width="14.03" height="6.85" fill="rgb(212,168,179)"/>
<rect x="300.47" y="160.75" width="14.03" height="6.15" fill="rgb(212,168,179)"/>
<rect x="313.80" y="31.60" width="14.03" height="6.85" fill="rgb(233,214,219)"/>
<rect x="313.80" y="37.75" width="14.03" height="6.85" fill="rgb(233,214,219)"/>
<rect x="313.80" y="43.90" width="14.03" height="6.85" fill="rgb(233,214,219)"/>
<rect x="313.80" y="50.05" width="14.03" height="6.85" fill="rgb(233,214,219)"/>
<rect x="313.80" y="56.20" width="14.03" height="6.85" fill="rgb(233,214,219)"/>
<rect x="313.80" y="62.35" width="14.03" height="6.85" fill="rgb(233,214,219)"/>
<rect x="313.80" y="68.50" width="14.03" height="6.85" fill="rgb(233,214,219)"/>
<rect x="313.80" y="74.65" width="14.03" height="6.85" fill="rgb(233,214,219)"/>
<rect x="313.80" y="80.80" width="14.03" height="6.85" fill="rgb(233,214,219)"/>
<rect x="313.80" y="86.95" width="14.03" height="6.85" fill="rgb(233,214,219)"/>
<rect x="313.80" y="93.10" width="14.03" height="6.85" fill="rgb(233,214,219)"/>
<rect x="313.80" y="99.25" width="14.03" height="6.85" fill="rgb(233,214,219)"/>
<rect x="313.80" y="105.40" width="14.03" height="6.85" fill="rgb(233,214,219)"/>
<rect x="313.80" y="111.55" width="14.03" height="6.85" fill="rgb(233,214,219)"/>
<rect x="313.80" y="117.70" width="14.03" height="6.85" fill="rgb(233,214,219)"/>
<rect x="313.80" y="123.85" width="14.03" height="6.85" fill="rgb(233,214,219)"/>
<rect x="313.80" y="130.00" width="14.03" height="6.85" fill="rgb(233,214,219)"/>
<rect x="313.80" y="136.15" width="14.03" height="6.85" fill="rgb(233,214,219)"/>
<rect x="313.80" y="142.30" width="14.03" height="6.85" fill="rgb(233,214,219)"/>
<rect x="313.80" y="148.45" width="14.03" height="6.85" fill="rgb(233,214,219)"/>
<rect x="313.80" y="154.60" width="14.03" height="6.85" fill="rgb(233,214,219)"/>
<rect x="313.80" y="160.75" width="14.03" height="6.15" fill="rgb(233,214,219)"/>
<rect x="327.13" y="31.60" width="14.03" height="6.85" fill="rgb(255,255,255)"/>
<rect x="327.13" y="37.75" width="14.03" height="6.85" fill="rgb(255,255,255)"/>
<rect x="327.13" y="43.90" width="14.03" height="6.85" fill="rgb(255,255,255)"/>
<rect x="327.13" y="50.05" width="14.03" height="6.85" fill="rgb(255,255,255)"/>
<rect x="327.13" y="56.20" width="14.03" height="6.85" fill="rgb(255,255,255)"/>
<rect x="327.13" y="62.35" width="14.03" height="6.85" fill="rgb(255,255,255)"/>
<rect x="327.13" y="68.50" width="14.03" height="6.85" fill="rgb(255,255,255)"/>
<rect x="327.13" y="74.65" width="14.03" height="6.85" fill="rgb(255,255,255)"/>
<rect x="327.13" y="80.80" width="14.03" height="6.85" fill="rgb(233,214,219)"/>
<rect x="327.13" y="86.95" width="14.03" height="6.85" fill="rgb(255,255,255)"/>
<rect x="327.13" y="93.10" width="14.03" height="6.85" fill="rgb(255,255,255)"/>
<rect x="327.13" y="99.25" width="14.03" height="6.85" fill="rgb(255,255,255)"/>
<rect x="327.13" y="105.40" width="14.03" height="6.85" fill="rgb(255,255,255)"/>
<rect x="327.13" y="111.55" width="14.03" height="6.85" fill="rgb(255,255,255)"/>
<rect x="327.13" y="117.70" width="14.03" height="6.85" fill="rgb(255,255,255)"/>
<rect x="327.13" y="123.85" width="14.03" height="6.85" fill="rgb(255,255,255)"/>
<rect x="327.13" y="130.00" width="14.03" height="6.85" fill="rgb(255,255,255)"/>
<rect x="327.13" y="136.15" width="14.03" height="6.85" fill="rgb(255,255,255)"/>
<rect x="327.13" y="142.30" width="14.03" height="6.85" fill="rgb(255,255,255)"/>
<rect x="327.13" y="148.45" width="14.03" height="6.85" fill="rgb(255,255,255)"/>
<rect x="327.13" y="154.60" width="14.03" height="6.85" fill="rgb(255,255,255)"/>
<rect x="327.13" y="160.75" width="14.03" height="6.15" fill="rgb(255,255,255)"/>
<rect x="340.47" y="31.60" width="13.33" height="6.85" fill="rgb(212,168,179)"/>
<rect x="340.47" y="37.75" width="13.33" height="6.85" fill="rgb(212,168,179)"/>
<rect x="340.47" y="43.90" width="13.33" height="6.85" fill="rgb(212,168,179)"/>
<rect x="340.47" y="50.05" width="13.33" height="6.85" fill="rgb(212,168,179)"/>
<rect x="340.47" y="56.20" width="13.33" height="6.85" fill="rgb(212,168,179)"/>
<rect x="340.47" y="62.35" width="13.33" height="6.85" fill="rgb(212,168,179)"/>
<rect x="340.47" y="68.50" width="13.33" height="6.85" fill="rgb(212,168,179)"/>
<rect x="340.47" y="74.65" width="13.33" height="6.85" fill="rgb(212,168,179)"/>
<rect x="340.47" y="80.80" width="13.33" height="6.85" fill="rgb(212,168,179)"/>
<rect x="340.47" y="86.95" width="13.33" height="6.85" fill="rgb(212,168,179)"/>
<rect x="340.47" y="93.10" width="13.33" height="6.85" fill="rgb(212,168,179)"/>
<rect x="340.47" y="99.25" width="13.33" height="6.85" fill="rgb(212,168,179)"/>
<rect x="340.47" y="105.40" width="13.33" height="6.85" fill="rgb(212,168,179)"/>
<rect x="340.47" y="111.55" width="13.33" height="6.85" fill="rgb(212,168,179)"/>
<rect x="340.47" y="117.70" width="13.33" height="6.85" fill="rgb(212,168,179)"/>
<rect x="340.47" y="123.85" width="13.33" height="6.85" fill="rgb(212,168,179)"/>
<rect x="340.47" y="130.00" width="13.33" height="6.85" fill="rgb(212,168,179)"/>
<rect x="340.47" y="136.15" width="13.33" height="6.85" fill="rgb(212,168,179)"/>
<rect x="340.47" y="142.30" width="13.33" height="6.85" fill="rgb(212,168,179)"/>
<rect x="340.47" y="148.45" width="13.33" height="6.85" fill="rgb(212,168,179)"/>
<rect x="340.47" y="154.60" width="13.33" height="6.85" fill="rgb(212,168,179)"/>
<rect x="340.47" y="160.75" width="13.33" height="6.15" fill="rgb(212,168,179)"/>
<rect x="273.80" y="31.60" width="80.0" height="135.3" fill="none" stroke="#2a2a2a" stroke-width="0.8"/>
<text x="313.80" y="27.00" font-size="8.2" text-anchor="middle" font-weight="normal" fill="#000" >Claude 3.5</text>
<line x1="271.40" y1="34.68" x2="273.80" y2="34.68" stroke="#111" stroke-width="0.85"/>
<text x="269.10" y="36.58" font-size="7.3" text-anchor="end" font-weight="normal" fill="#000" >1</text>
<line x1="271.40" y1="40.83" x2="273.80" y2="40.83" stroke="#111" stroke-width="0.85"/>
<text x="269.10" y="42.73" font-size="7.3" text-anchor="end" font-weight="normal" fill="#000" >2</text>
<line x1="271.40" y1="46.98" x2="273.80" y2="46.98" stroke="#111" stroke-width="0.85"/>
<text x="269.10" y="48.88" font-size="7.3" text-anchor="end" font-weight="normal" fill="#000" >3</text>
<line x1="271.40" y1="53.12" x2="273.80" y2="53.12" stroke="#111" stroke-width="0.85"/>
<text x="269.10" y="55.02" font-size="7.3" text-anchor="end" font-weight="normal" fill="#000" >4</text>
<line x1="271.40" y1="59.28" x2="273.80" y2="59.28" stroke="#111" stroke-width="0.85"/>
<text x="269.10" y="61.18" font-size="7.3" text-anchor="end" font-weight="normal" fill="#000" >5</text>
<line x1="271.40" y1="65.43" x2="273.80" y2="65.43" stroke="#111" stroke-width="0.85"/>
<text x="269.10" y="67.33" font-size="7.3" text-anchor="end" font-weight="normal" fill="#000" >6</text>
<line x1="271.40" y1="71.58" x2="273.80" y2="71.58" stroke="#111" stroke-width="0.85"/>
<text x="269.10" y="73.48" font-size="7.3" text-anchor="end" font-weight="normal" fill="#000" >7</text>
<line x1="271.40" y1="77.72" x2="273.80" y2="77.72" stroke="#111" stroke-width="0.85"/>
<text x="269.10" y="79.62" font-size="7.3" text-anchor="end" font-weight="normal" fill="#000" >8</text>
<line x1="271.40" y1="83.88" x2="273.80" y2="83.88" stroke="#111" stroke-width="0.85"/>
<text x="269.10" y="85.78" font-size="7.3" text-anchor="end" font-weight="normal" fill="#000" >9</text>
<line x1="271.40" y1="90.03" x2="273.80" y2="90.03" stroke="#111" stroke-width="0.85"/>
<text x="269.10" y="91.93" font-size="7.3" text-anchor="end" font-weight="normal" fill="#000" >10</text>
<line x1="271.40" y1="96.18" x2="273.80" y2="96.18" stroke="#111" stroke-width="0.85"/>
<text x="269.10" y="98.08" font-size="7.3" text-anchor="end" font-weight="normal" fill="#000" >11</text>
<line x1="271.40" y1="102.33" x2="273.80" y2="102.33" stroke="#111" stroke-width="0.85"/>
<text x="269.10" y="104.23" font-size="7.3" text-anchor="end" font-weight="normal" fill="#000" >12</text>
<line x1="271.40" y1="108.47" x2="273.80" y2="108.47" stroke="#111" stroke-width="0.85"/>
<text x="269.10" y="110.38" font-size="7.3" text-anchor="end" font-weight="normal" fill="#000" >13</text>
<line x1="271.40" y1="114.62" x2="273.80" y2="114.62" stroke="#111" stroke-width="0.85"/>
<text x="269.10" y="116.53" font-size="7.3" text-anchor="end" font-weight="normal" fill="#000" >14</text>
<line x1="271.40" y1="120.78" x2="273.80" y2="120.78" stroke="#111" stroke-width="0.85"/>
<text x="269.10" y="122.68" font-size="7.3" text-anchor="end" font-weight="normal" fill="#000" >15</text>
<line x1="271.40" y1="126.93" x2="273.80" y2="126.93" stroke="#111" stroke-width="0.85"/>
<text x="269.10" y="128.83" font-size="7.3" text-anchor="end" font-weight="normal" fill="#000" >16</text>
<line x1="271.40" y1="133.08" x2="273.80" y2="133.08" stroke="#111" stroke-width="0.85"/>
<text x="269.10" y="134.98" font-size="7.3" text-anchor="end" font-weight="normal" fill="#000" >17</text>
<line x1="271.40" y1="139.22" x2="273.80" y2="139.22" stroke="#111" stroke-width="0.85"/>
<text x="269.10" y="141.12" font-size="7.3" text-anchor="end" font-weight="normal" fill="#000" >18</text>
<line x1="271.40" y1="145.38" x2="273.80" y2="145.38" stroke="#111" stroke-width="0.85"/>
<text x="269.10" y="147.28" font-size="7.3" text-anchor="end" font-weight="normal" fill="#000" >19</text>
<line x1="271.40" y1="151.53" x2="273.80" y2="151.53" stroke="#111" stroke-width="0.85"/>
<text x="269.10" y="153.43" font-size="7.3" text-anchor="end" font-weight="normal" fill="#000" >20</text>
<line x1="271.40" y1="157.68" x2="273.80" y2="157.68" stroke="#111" stroke-width="0.85"/>
<text x="269.10" y="159.58" font-size="7.3" text-anchor="end" font-weight="normal" fill="#000" >21</text>
<line x1="271.40" y1="163.82" x2="273.80" y2="163.82" stroke="#111" stroke-width="0.85"/>
<text x="269.10" y="165.72" font-size="7.3" text-anchor="end" font-weight="normal" fill="#000" >22</text>
<line x1="280.47" y1="166.90" x2="280.47" y2="170.30" stroke="#111" stroke-width="0.9"/>
<text x="282.47" y="177.10" font-size="8.2" text-anchor="end" font-weight="normal" fill="#000" transform="rotate(-45 282.47 177.10)">Period Accuracy</text>
<line x1="293.80" y1="166.90" x2="293.80" y2="170.30" stroke="#111" stroke-width="0.9"/>
<text x="295.80" y="177.10" font-size="8.2" text-anchor="end" font-weight="normal" fill="#000" transform="rotate(-45 295.80 177.10)">Style Granularity</text>
<line x1="307.13" y1="166.90" x2="307.13" y2="170.30" stroke="#111" stroke-width="0.9"/>
<text x="309.13" y="177.10" font-size="8.2" text-anchor="end" font-weight="normal" fill="#000" transform="rotate(-45 309.13 177.10)">Detail Richness</text>
<line x1="320.47" y1="166.90" x2="320.47" y2="170.30" stroke="#111" stroke-width="0.9"/>
<text x="322.47" y="177.10" font-size="8.2" text-anchor="end" font-weight="normal" fill="#000" transform="rotate(-45 322.47 177.10)">Term Consistency</text>
<line x1="333.80" y1="166.90" x2="333.80" y2="170.30" stroke="#111" stroke-width="0.9"/>
<text x="335.80" y="177.10" font-size="8.2" text-anchor="end" font-weight="normal" fill="#000" transform="rotate(-45 335.80 177.10)">Cultural Depth</text>
<line x1="347.13" y1="166.90" x2="347.13" y2="170.30" stroke="#111" stroke-width="0.9"/>
<text x="349.13" y="177.10" font-size="8.2" text-anchor="end" font-weight="normal" fill="#000" transform="rotate(-45 349.13 177.10)">Logic &amp; Coherence</text>
<rect x="374.80" y="31.20" width="14.03" height="6.85" fill="rgb(255,255,255)"/>
<rect x="374.80" y="37.35" width="14.03" height="6.85" fill="rgb(255,255,255)"/>
<rect x="374.80" y="43.50" width="14.03" height="6.85" fill="rgb(255,255,255)"/>
<rect x="374.80" y="49.65" width="14.03" height="6.85" fill="rgb(255,255,255)"/>
<rect x="374.80" y="55.80" width="14.03" height="6.85" fill="rgb(255,255,255)"/>
<rect x="374.80" y="61.95" width="14.03" height="6.85" fill="rgb(255,255,255)"/>
<rect x="374.80" y="68.10" width="14.03" height="6.85" fill="rgb(255,255,255)"/>
<rect x="374.80" y="74.25" width="14.03" height="6.85" fill="rgb(255,255,255)"/>
<rect x="374.80" y="80.40" width="14.03" height="6.85" fill="rgb(233,214,219)"/>
<rect x="374.80" y="86.55" width="14.03" height="6.85" fill="rgb(255,255,255)"/>
<rect x="374.80" y="92.70" width="14.03" height="6.85" fill="rgb(233,214,219)"/>
<rect x="374.80" y="98.85" width="14.03" height="6.85" fill="rgb(255,255,255)"/>
<rect x="374.80" y="105.00" width="14.03" height="6.85" fill="rgb(255,255,255)"/>
<rect x="374.80" y="111.15" width="14.03" height="6.85" fill="rgb(255,255,255)"/>
<rect x="374.80" y="117.30" width="14.03" height="6.85" fill="rgb(255,255,255)"/>
<rect x="374.80" y="123.45" width="14.03" height="6.85" fill="rgb(255,255,255)"/>
<rect x="374.80" y="129.60" width="14.03" height="6.85" fill="rgb(255,255,255)"/>
<rect x="374.80" y="135.75" width="14.03" height="6.85" fill="rgb(255,255,255)"/>
<rect x="374.80" y="141.90" width="14.03" height="6.85" fill="rgb(255,255,255)"/>
<rect x="374.80" y="148.05" width="14.03" height="6.85" fill="rgb(255,255,255)"/>
<rect x="374.80" y="154.20" width="14.03" height="6.85" fill="rgb(255,255,255)"/>
<rect x="374.80" y="160.35" width="14.03" height="6.15" fill="rgb(255,255,255)"/>
<rect x="388.13" y="31.20" width="14.03" height="6.85" fill="rgb(233,214,219)"/>
<rect x="388.13" y="37.35" width="14.03" height="6.85" fill="rgb(233,214,219)"/>
<rect x="388.13" y="43.50" width="14.03" height="6.85" fill="rgb(233,214,219)"/>
<rect x="388.13" y="49.65" width="14.03" height="6.85" fill="rgb(255,255,255)"/>
<rect x="388.13" y="55.80" width="14.03" height="6.85" fill="rgb(233,214,219)"/>
<rect x="388.13" y="61.95" width="14.03" height="6.85" fill="rgb(233,214,219)"/>
<rect x="388.13" y="68.10" width="14.03" height="6.85" fill="rgb(233,214,219)"/>
<rect x="388.13" y="74.25" width="14.03" height="6.85" fill="rgb(233,214,219)"/>
<rect x="388.13" y="80.40" width="14.03" height="6.85" fill="rgb(212,168,179)"/>
<rect x="388.13" y="86.55" width="14.03" height="6.85" fill="rgb(233,214,219)"/>
<rect x="388.13" y="92.70" width="14.03" height="6.85" fill="rgb(233,214,219)"/>
<rect x="388.13" y="98.85" width="14.03" height="6.85" fill="rgb(233,214,219)"/>
<rect x="388.13" y="105.00" width="14.03" height="6.85" fill="rgb(233,214,219)"/>
<rect x="388.13" y="111.15" width="14.03" height="6.85" fill="rgb(233,214,219)"/>
<rect x="388.13" y="117.30" width="14.03" height="6.85" fill="rgb(233,214,219)"/>
<rect x="388.13" y="123.45" width="14.03" height="6.85" fill="rgb(233,214,219)"/>
<rect x="388.13" y="129.60" width="14.03" height="6.85" fill="rgb(233,214,219)"/>
<rect x="388.13" y="135.75" width="14.03" height="6.85" fill="rgb(233,214,219)"/>
<rect x="388.13" y="141.90" width="14.03" height="6.85" fill="rgb(233,214,219)"/>
<rect x="388.13" y="148.05" width="14.03" height="6.85" fill="rgb(233,214,219)"/>
<rect x="388.13" y="154.20" width="14.03" height="6.85" fill="rgb(233,214,219)"/>
<rect x="388.13" y="160.35" width="14.03" height="6.15" fill="rgb(255,255,255)"/>
<rect x="401.47" y="31.20" width="14.03" height="6.85" fill="rgb(212,168,179)"/>
<rect x="401.47" y="37.35" width="14.03" height="6.85" fill="rgb(212,168,179)"/>
<rect x="401.47" y="43.50" width="14.03" height="6.85" fill="rgb(212,168,179)"/>
<rect x="401.47" y="49.65" width="14.03" height="6.85" fill="rgb(233,214,219)"/>
<rect x="401.47" y="55.80" width="14.03" height="6.85" fill="rgb(233,214,219)"/>
<rect x="401.47" y="61.95" width="14.03" height="6.85" fill="rgb(233,214,219)"/>
<rect x="401.47" y="68.10" width="14.03" height="6.85" fill="rgb(233,214,219)"/>
<rect x="401.47" y="74.25" width="14.03" height="6.85" fill="rgb(233,214,219)"/>
<rect x="401.47" y="80.40" width="14.03" height="6.85" fill="rgb(212,168,179)"/>
<rect x="401.47" y="86.55" width="14.03" height="6.85" fill="rgb(233,214,219)"/>
<rect x="401.47" y="92.70" width="14.03" height="6.85" fill="rgb(233,214,219)"/>
<rect x="401.47" y="98.85" width="14.03" height="6.85" fill="rgb(233,214,219)"/>
<rect x="401.47" y="105.00" width="14.03" height="6.85" fill="rgb(233,214,219)"/>
<rect x="401.47" y="111.15" width="14.03" height="6.85" fill="rgb(233,214,219)"/>
<rect x="401.47" y="117.30" width="14.03" height="6.85" fill="rgb(233,214,219)"/>
<rect x="401.47" y="123.45" width="14.03" height="6.85" fill="rgb(233,214,219)"/>
<rect x="401.47" y="129.60" width="14.03" height="6.85" fill="rgb(233,214,219)"/>
<rect x="401.47" y="135.75" width="14.03" height="6.85" fill="rgb(233,214,219)"/>
<rect x="401.47" y="141.90" width="14.03" height="6.85" fill="rgb(233,214,219)"/>
<rect x="401.47" y="148.05" width="14.03" height="6.85" fill="rgb(233,214,219)"/>
<rect x="401.47" y="154.20" width="14.03" height="6.85" fill="rgb(233,214,219)"/>
<rect x="401.47" y="160.35" width="14.03" height="6.15" fill="rgb(233,214,219)"/>
<rect x="414.80" y="31.20" width="14.03" height="6.85" fill="rgb(233,214,219)"/>
<rect x="414.80" y="37.35" width="14.03" height="6.85" fill="rgb(233,214,219)"/>
<rect x="414.80" y="43.50" width="14.03" height="6.85" fill="rgb(233,214,219)"/>
<rect x="414.80" y="49.65" width="14.03" height="6.85" fill="rgb(233,214,219)"/>
<rect x="414.80" y="55.80" width="14.03" height="6.85" fill="rgb(233,214,219)"/>
<rect x="414.80" y="61.95" width="14.03" height="6.85" fill="rgb(233,214,219)"/>
<rect x="414.80" y="68.10" width="14.03" height="6.85" fill="rgb(233,214,219)"/>
<rect x="414.80" y="74.25" width="14.03" height="6.85" fill="rgb(233,214,219)"/>
<rect x="414.80" y="80.40" width="14.03" height="6.85" fill="rgb(212,168,179)"/>
<rect x="414.80" y="86.55" width="14.03" height="6.85" fill="rgb(233,214,219)"/>
<rect x="414.80" y="92.70" width="14.03" height="6.85" fill="rgb(233,214,219)"/>
<rect x="414.80" y="98.85" width="14.03" height="6.85" fill="rgb(233,214,219)"/>
<rect x="414.80" y="105.00" width="14.03" height="6.85" fill="rgb(233,214,219)"/>
<rect x="414.80" y="111.15" width="14.03" height="6.85" fill="rgb(233,214,219)"/>
<rect x="414.80" y="117.30" width="14.03" height="6.85" fill="rgb(233,214,219)"/>
<rect x="414.80" y="123.45" width="14.03" height="6.85" fill="rgb(233,214,219)"/>
<rect x="414.80" y="129.60" width="14.03" height="6.85" fill="rgb(233,214,219)"/>
<rect x="414.80" y="135.75" width="14.03" height="6.85" fill="rgb(233,214,219)"/>
<rect x="414.80" y="141.90" width="14.03" height="6.85" fill="rgb(233,214,219)"/>
<rect x="414.80" y="148.05" width="14.03" height="6.85" fill="rgb(233,214,219)"/>
<rect x="414.80" y="154.20" width="14.03" height="6.85" fill="rgb(233,214,219)"/>
<rect x="414.80" y="160.35" width="14.03" height="6.15" fill="rgb(255,255,255)"/>
<rect x="428.13" y="31.20" width="14.03" height="6.85" fill="rgb(255,255,255)"/>
<rect x="428.13" y="37.35" width="14.03" height="6.85" fill="rgb(255,255,255)"/>
<rect x="428.13" y="43.50" width="14.03" height="6.85" fill="rgb(255,255,255)"/>
<rect x="428.13" y="49.65" width="14.03" height="6.85" fill="rgb(255,255,255)"/>
<rect x="428.13" y="55.80" width="14.03" height="6.85" fill="rgb(255,255,255)"/>
<rect x="428.13" y="61.95" width="14.03" height="6.85" fill="rgb(255,255,255)"/>
<rect x="428.13" y="68.10" width="14.03" height="6.85" fill="rgb(255,255,255)"/>
<rect x="428.13" y="74.25" width="14.03" height="6.85" fill="rgb(255,255,255)"/>
<rect x="428.13" y="80.40" width="14.03" height="6.85" fill="rgb(233,214,219)"/>
<rect x="428.13" y="86.55" width="14.03" height="6.85" fill="rgb(255,255,255)"/>
<rect x="428.13" y="92.70" width="14.03" height="6.85" fill="rgb(255,255,255)"/>
<rect x="428.13" y="98.85" width="14.03" height="6.85" fill="rgb(255,255,255)"/>
<rect x="428.13" y="105.00" width="14.03" height="6.85" fill="rgb(255,255,255)"/>
<rect x="428.13" y="111.15" width="14.03" height="6.85" fill="rgb(255,255,255)"/>
<rect x="428.13" y="117.30" width="14.03" height="6.85" fill="rgb(255,255,255)"/>
<rect x="428.13" y="123.45" width="14.03" height="6.85" fill="rgb(255,255,255)"/>
<rect x="428.13" y="129.60" width="14.03" height="6.85" fill="rgb(255,255,255)"/>
<rect x="428.13" y="135.75" width="14.03" height="6.85" fill="rgb(255,255,255)"/>
<rect x="428.13" y="141.90" width="14.03" height="6.85" fill="rgb(255,255,255)"/>
<rect x="428.13" y="148.05" width="14.03" height="6.85" fill="rgb(255,255,255)"/>
<rect x="428.13" y="154.20" width="14.03" height="6.85" fill="rgb(255,255,255)"/>
<rect x="428.13" y="160.35" width="14.03" height="6.15" fill="rgb(255,255,255)"/>
<rect x="441.47" y="31.20" width="13.33" height="6.85" fill="rgb(212,168,179)"/>
<rect x="441.47" y="37.35" width="13.33" height="6.85" fill="rgb(212,168,179)"/>
<rect x="441.47" y="43.50" width="13.33" height="6.85" fill="rgb(212,168,179)"/>
<rect x="441.47" y="49.65" width="13.33" height="6.85" fill="rgb(212,168,179)"/>
<rect x="441.47" y="55.80" width="13.33" height="6.85" fill="rgb(212,168,179)"/>
<rect x="441.47" y="61.95" width="13.33" height="6.85" fill="rgb(212,168,179)"/>
<rect x="441.47" y="68.10" width="13.33" height="6.85" fill="rgb(212,168,179)"/>
<rect x="441.47" y="74.25" width="13.33" height="6.85" fill="rgb(212,168,179)"/>
<rect x="441.47" y="80.40" width="13.33" height="6.85" fill="rgb(196,135,151)"/>
<rect x="441.47" y="86.55" width="13.33" height="6.85" fill="rgb(212,168,179)"/>
<rect x="441.47" y="92.70" width="13.33" height="6.85" fill="rgb(212,168,179)"/>
<rect x="441.47" y="98.85" width="13.33" height="6.85" fill="rgb(212,168,179)"/>
<rect x="441.47" y="105.00" width="13.33" height="6.85" fill="rgb(212,168,179)"/>
<rect x="441.47" y="111.15" width="13.33" height="6.85" fill="rgb(212,168,179)"/>
<rect x="441.47" y="117.30" width="13.33" height="6.85" fill="rgb(212,168,179)"/>
<rect x="441.47" y="123.45" width="13.33" height="6.85" fill="rgb(212,168,179)"/>
<rect x="441.47" y="129.60" width="13.33" height="6.85" fill="rgb(212,168,179)"/>
<rect x="441.47" y="135.75" width="13.33" height="6.85" fill="rgb(212,168,179)"/>
<rect x="441.47" y="141.90" width="13.33" height="6.85" fill="rgb(212,168,179)"/>
<rect x="441.47" y="148.05" width="13.33" height="6.85" fill="rgb(212,168,179)"/>
<rect x="441.47" y="154.20" width="13.33" height="6.85" fill="rgb(212,168,179)"/>
<rect x="441.47" y="160.35" width="13.33" height="6.15" fill="rgb(212,168,179)"/>
<rect x="374.80" y="31.20" width="80.0" height="135.3" fill="none" stroke="#2a2a2a" stroke-width="0.8"/>
<text x="411.60" y="27.00" font-size="8.2" text-anchor="middle" font-weight="normal" fill="#000" >Gemini 1.5 Pro</text>
<line x1="372.40" y1="34.27" x2="374.80" y2="34.27" stroke="#111" stroke-width="0.85"/>
<text x="370.10" y="36.17" font-size="7.3" text-anchor="end" font-weight="normal" fill="#000" >1</text>
<line x1="372.40" y1="40.42" x2="374.80" y2="40.42" stroke="#111" stroke-width="0.85"/>
<text x="370.10" y="42.32" font-size="7.3" text-anchor="end" font-weight="normal" fill="#000" >2</text>
<line x1="372.40" y1="46.58" x2="374.80" y2="46.58" stroke="#111" stroke-width="0.85"/>
<text x="370.10" y="48.48" font-size="7.3" text-anchor="end" font-weight="normal" fill="#000" >3</text>
<line x1="372.40" y1="52.73" x2="374.80" y2="52.73" stroke="#111" stroke-width="0.85"/>
<text x="370.10" y="54.62" font-size="7.3" text-anchor="end" font-weight="normal" fill="#000" >4</text>
<line x1="372.40" y1="58.88" x2="374.80" y2="58.88" stroke="#111" stroke-width="0.85"/>
<text x="370.10" y="60.77" font-size="7.3" text-anchor="end" font-weight="normal" fill="#000" >5</text>
<line x1="372.40" y1="65.03" x2="374.80" y2="65.03" stroke="#111" stroke-width="0.85"/>
<text x="370.10" y="66.93" font-size="7.3" text-anchor="end" font-weight="normal" fill="#000" >6</text>
<line x1="372.40" y1="71.17" x2="374.80" y2="71.17" stroke="#111" stroke-width="0.85"/>
<text x="370.10" y="73.08" font-size="7.3" text-anchor="end" font-weight="normal" fill="#000" >7</text>
<line x1="372.40" y1="77.33" x2="374.80" y2="77.33" stroke="#111" stroke-width="0.85"/>
<text x="370.10" y="79.23" font-size="7.3" text-anchor="end" font-weight="normal" fill="#000" >8</text>
<line x1="372.40" y1="83.48" x2="374.80" y2="83.48" stroke="#111" stroke-width="0.85"/>
<text x="370.10" y="85.38" font-size="7.3" text-anchor="end" font-weight="normal" fill="#000" >9</text>
<line x1="372.40" y1="89.62" x2="374.80" y2="89.62" stroke="#111" stroke-width="0.85"/>
<text x="370.10" y="91.53" font-size="7.3" text-anchor="end" font-weight="normal" fill="#000" >10</text>
<line x1="372.40" y1="95.78" x2="374.80" y2="95.78" stroke="#111" stroke-width="0.85"/>
<text x="370.10" y="97.68" font-size="7.3" text-anchor="end" font-weight="normal" fill="#000" >11</text>
<line x1="372.40" y1="101.93" x2="374.80" y2="101.93" stroke="#111" stroke-width="0.85"/>
<text x="370.10" y="103.83" font-size="7.3" text-anchor="end" font-weight="normal" fill="#000" >12</text>
<line x1="372.40" y1="108.08" x2="374.80" y2="108.08" stroke="#111" stroke-width="0.85"/>
<text x="370.10" y="109.98" font-size="7.3" text-anchor="end" font-weight="normal" fill="#000" >13</text>
<line x1="372.40" y1="114.23" x2="374.80" y2="114.23" stroke="#111" stroke-width="0.85"/>
<text x="370.10" y="116.13" font-size="7.3" text-anchor="end" font-weight="normal" fill="#000" >14</text>
<line x1="372.40" y1="120.38" x2="374.80" y2="120.38" stroke="#111" stroke-width="0.85"/>
<text x="370.10" y="122.28" font-size="7.3" text-anchor="end" font-weight="normal" fill="#000" >15</text>
<line x1="372.40" y1="126.53" x2="374.80" y2="126.53" stroke="#111" stroke-width="0.85"/>
<text x="370.10" y="128.43" font-size="7.3" text-anchor="end" font-weight="normal" fill="#000" >16</text>
<line x1="372.40" y1="132.68" x2="374.80" y2="132.68" stroke="#111" stroke-width="0.85"/>
<text x="370.10" y="134.58" font-size="7.3" text-anchor="end" font-weight="normal" fill="#000" >17</text>
<line x1="372.40" y1="138.82" x2="374.80" y2="138.82" stroke="#111" stroke-width="0.85"/>
<text x="370.10" y="140.72" font-size="7.3" text-anchor="end" font-weight="normal" fill="#000" >18</text>
<line x1="372.40" y1="144.97" x2="374.80" y2="144.97" stroke="#111" stroke-width="0.85"/>
<text x="370.10" y="146.88" font-size="7.3" text-anchor="end" font-weight="normal" fill="#000" >19</text>
<line x1="372.40" y1="151.12" x2="374.80" y2="151.12" stroke="#111" stroke-width="0.85"/>
<text x="370.10" y="153.03" font-size="7.3" text-anchor="end" font-weight="normal" fill="#000" >20</text>
<line x1="372.40" y1="157.28" x2="374.80" y2="157.28" stroke="#111" stroke-width="0.85"/>
<text x="370.10" y="159.18" font-size="7.3" text-anchor="end" font-weight="normal" fill="#000" >21</text>
<line x1="372.40" y1="163.42" x2="374.80" y2="163.42" stroke="#111" stroke-width="0.85"/>
<text x="370.10" y="165.32" font-size="7.3" text-anchor="end" font-weight="normal" fill="#000" >22</text>
<line x1="381.47" y1="166.50" x2="381.47" y2="169.90" stroke="#111" stroke-width="0.9"/>
<text x="383.47" y="176.70" font-size="8.2" text-anchor="end" font-weight="normal" fill="#000" transform="rotate(-45 383.47 176.70)">Period Accuracy</text>
<line x1="394.80" y1="166.50" x2="394.80" y2="169.90" stroke="#111" stroke-width="0.9"/>
<text x="396.80" y="176.70" font-size="8.2" text-anchor="end" font-weight="normal" fill="#000" transform="rotate(-45 396.80 176.70)">Style Granularity</text>
<line x1="408.13" y1="166.50" x2="408.13" y2="169.90" stroke="#111" stroke-width="0.9"/>
<text x="410.13" y="176.70" font-size="8.2" text-anchor="end" font-weight="normal" fill="#000" transform="rotate(-45 410.13 176.70)">Detail Richness</text>
<line x1="421.47" y1="166.50" x2="421.47" y2="169.90" stroke="#111" stroke-width="0.9"/>
<text x="423.47" y="176.70" font-size="8.2" text-anchor="end" font-weight="normal" fill="#000" transform="rotate(-45 423.47 176.70)">Term Consistency</text>
<line x1="434.80" y1="166.50" x2="434.80" y2="169.90" stroke="#111" stroke-width="0.9"/>
<text x="436.80" y="176.70" font-size="8.2" text-anchor="end" font-weight="normal" fill="#000" transform="rotate(-45 436.80 176.70)">Cultural Depth</text>
<line x1="448.13" y1="166.50" x2="448.13" y2="169.90" stroke="#111" stroke-width="0.9"/>
<text x="450.13" y="176.70" font-size="8.2" text-anchor="end" font-weight="normal" fill="#000" transform="rotate(-45 450.13 176.70)">Logic &amp; Coherence</text>
<rect x="476.50" y="30.60" width="14.03" height="6.85" fill="rgb(255,255,255)"/>
<rect x="476.50" y="36.75" width="14.03" height="6.85" fill="rgb(255,255,255)"/>
<rect x="476.50" y="42.90" width="14.03" height="6.85" fill="rgb(255,255,255)"/>
<rect x="476.50" y="49.05" width="14.03" height="6.85" fill="rgb(255,255,255)"/>
<rect x="476.50" y="55.20" width="14.03" height="6.85" fill="rgb(255,255,255)"/>
<rect x="476.50" y="61.35" width="14.03" height="6.85" fill="rgb(255,255,255)"/>
<rect x="476.50" y="67.50" width="14.03" height="6.85" fill="rgb(255,255,255)"/>
<rect x="476.50" y="73.65" width="14.03" height="6.85" fill="rgb(255,255,255)"/>
<rect x="476.50" y="79.80" width="14.03" height="6.85" fill="rgb(255,255,255)"/>
<rect x="476.50" y="85.95" width="14.03" height="6.85" fill="rgb(255,255,255)"/>
<rect x="476.50" y="92.10" width="14.03" height="6.85" fill="rgb(255,255,255)"/>
<rect x="476.50" y="98.25" width="14.03" height="6.85" fill="rgb(255,255,255)"/>
<rect x="476.50" y="104.40" width="14.03" height="6.85" fill="rgb(255,255,255)"/>
<rect x="476.50" y="110.55" width="14.03" height="6.85" fill="rgb(255,255,255)"/>
<rect x="476.50" y="116.70" width="14.03" height="6.85" fill="rgb(255,255,255)"/>
<rect x="476.50" y="122.85" width="14.03" height="6.85" fill="rgb(255,255,255)"/>
<rect x="476.50" y="129.00" width="14.03" height="6.85" fill="rgb(255,255,255)"/>
<rect x="476.50" y="135.15" width="14.03" height="6.85" fill="rgb(255,255,255)"/>
<rect x="476.50" y="141.30" width="14.03" height="6.85" fill="rgb(255,255,255)"/>
<rect x="476.50" y="147.45" width="14.03" height="6.85" fill="rgb(255,255,255)"/>
<rect x="476.50" y="153.60" width="14.03" height="6.85" fill="rgb(255,255,255)"/>
<rect x="476.50" y="159.75" width="14.03" height="6.15" fill="rgb(255,255,255)"/>
<rect x="489.83" y="30.60" width="14.03" height="6.85" fill="rgb(255,255,255)"/>
<rect x="489.83" y="36.75" width="14.03" height="6.85" fill="rgb(255,255,255)"/>
<rect x="489.83" y="42.90" width="14.03" height="6.85" fill="rgb(255,255,255)"/>
<rect x="489.83" y="49.05" width="14.03" height="6.85" fill="rgb(255,255,255)"/>
<rect x="489.83" y="55.20" width="14.03" height="6.85" fill="rgb(255,255,255)"/>
<rect x="489.83" y="61.35" width="14.03" height="6.85" fill="rgb(255,255,255)"/>
<rect x="489.83" y="67.50" width="14.03" height="6.85" fill="rgb(255,255,255)"/>
<rect x="489.83" y="73.65" width="14.03" height="6.85" fill="rgb(255,255,255)"/>
<rect x="489.83" y="79.80" width="14.03" height="6.85" fill="rgb(255,255,255)"/>
<rect x="489.83" y="85.95" width="14.03" height="6.85" fill="rgb(255,255,255)"/>
<rect x="489.83" y="92.10" width="14.03" height="6.85" fill="rgb(255,255,255)"/>
<rect x="489.83" y="98.25" width="14.03" height="6.85" fill="rgb(255,255,255)"/>
<rect x="489.83" y="104.40" width="14.03" height="6.85" fill="rgb(255,255,255)"/>
<rect x="489.83" y="110.55" width="14.03" height="6.85" fill="rgb(255,255,255)"/>
<rect x="489.83" y="116.70" width="14.03" height="6.85" fill="rgb(255,255,255)"/>
<rect x="489.83" y="122.85" width="14.03" height="6.85" fill="rgb(255,255,255)"/>
<rect x="489.83" y="129.00" width="14.03" height="6.85" fill="rgb(255,255,255)"/>
<rect x="489.83" y="135.15" width="14.03" height="6.85" fill="rgb(255,255,255)"/>
<rect x="489.83" y="141.30" width="14.03" height="6.85" fill="rgb(255,255,255)"/>
<rect x="489.83" y="147.45" width="14.03" height="6.85" fill="rgb(255,255,255)"/>
<rect x="489.83" y="153.60" width="14.03" height="6.85" fill="rgb(255,255,255)"/>
<rect x="489.83" y="159.75" width="14.03" height="6.15" fill="rgb(255,255,255)"/>
<rect x="503.17" y="30.60" width="14.03" height="6.85" fill="rgb(233,214,219)"/>
<rect x="503.17" y="36.75" width="14.03" height="6.85" fill="rgb(233,214,219)"/>
<rect x="503.17" y="42.90" width="14.03" height="6.85" fill="rgb(233,214,219)"/>
<rect x="503.17" y="49.05" width="14.03" height="6.85" fill="rgb(233,214,219)"/>
<rect x="503.17" y="55.20" width="14.03" height="6.85" fill="rgb(233,214,219)"/>
<rect x="503.17" y="61.35" width="14.03" height="6.85" fill="rgb(233,214,219)"/>
<rect x="503.17" y="67.50" width="14.03" height="6.85" fill="rgb(233,214,219)"/>
<rect x="503.17" y="73.65" width="14.03" height="6.85" fill="rgb(233,214,219)"/>
<rect x="503.17" y="79.80" width="14.03" height="6.85" fill="rgb(233,214,219)"/>
<rect x="503.17" y="85.95" width="14.03" height="6.85" fill="rgb(233,214,219)"/>
<rect x="503.17" y="92.10" width="14.03" height="6.85" fill="rgb(233,214,219)"/>
<rect x="503.17" y="98.25" width="14.03" height="6.85" fill="rgb(255,255,255)"/>
<rect x="503.17" y="104.40" width="14.03" height="6.85" fill="rgb(255,255,255)"/>
<rect x="503.17" y="110.55" width="14.03" height="6.85" fill="rgb(255,255,255)"/>
<rect x="503.17" y="116.70" width="14.03" height="6.85" fill="rgb(255,255,255)"/>
<rect x="503.17" y="122.85" width="14.03" height="6.85" fill="rgb(255,255,255)"/>
<rect x="503.17" y="129.00" width="14.03" height="6.85" fill="rgb(255,255,255)"/>
<rect x="503.17" y="135.15" width="14.03" height="6.85" fill="rgb(255,255,255)"/>
<rect x="503.17" y="141.30" width="14.03" height="6.85" fill="rgb(255,255,255)"/>
<rect x="503.17" y="147.45" width="14.03" height="6.85" fill="rgb(255,255,255)"/>
<rect x="503.17" y="153.60" width="14.03" height="6.85" fill="rgb(255,255,255)"/>
<rect x="503.17" y="159.75" width="14.03" height="6.15" fill="rgb(255,255,255)"/>
<rect x="516.50" y="30.60" width="14.03" height="6.85" fill="rgb(255,255,255)"/>
<rect x="516.50" y="36.75" width="14.03" height="6.85" fill="rgb(255,255,255)"/>
<rect x="516.50" y="42.90" width="14.03" height="6.85" fill="rgb(255,255,255)"/>
<rect x="516.50" y="49.05" width="14.03" height="6.85" fill="rgb(255,255,255)"/>
<rect x="516.50" y="55.20" width="14.03" height="6.85" fill="rgb(255,255,255)"/>
<rect x="516.50" y="61.35" width="14.03" height="6.85" fill="rgb(255,255,255)"/>
<rect x="516.50" y="67.50" width="14.03" height="6.85" fill="rgb(255,255,255)"/>
<rect x="516.50" y="73.65" width="14.03" height="6.85" fill="rgb(255,255,255)"/>
<rect x="516.50" y="79.80" width="14.03" height="6.85" fill="rgb(255,255,255)"/>
<rect x="516.50" y="85.95" width="14.03" height="6.85" fill="rgb(255,255,255)"/>
<rect x="516.50" y="92.10" width="14.03" height="6.85" fill="rgb(255,255,255)"/>
<rect x="516.50" y="98.25" width="14.03" height="6.85" fill="rgb(255,255,255)"/>
<rect x="516.50" y="104.40" width="14.03" height="6.85" fill="rgb(255,255,255)"/>
<rect x="516.50" y="110.55" width="14.03" height="6.85" fill="rgb(255,255,255)"/>
<rect x="516.50" y="116.70" width="14.03" height="6.85" fill="rgb(255,255,255)"/>
<rect x="516.50" y="122.85" width="14.03" height="6.85" fill="rgb(255,255,255)"/>
<rect x="516.50" y="129.00" width="14.03" height="6.85" fill="rgb(255,255,255)"/>
<rect x="516.50" y="135.15" width="14.03" height="6.85" fill="rgb(255,255,255)"/>
<rect x="516.50" y="141.30" width="14.03" height="6.85" fill="rgb(255,255,255)"/>
<rect x="516.50" y="147.45" width="14.03" height="6.85" fill="rgb(255,255,255)"/>
<rect x="516.50" y="153.60" width="14.03" height="6.85" fill="rgb(255,255,255)"/>
<rect x="516.50" y="159.75" width="14.03" height="6.15" fill="rgb(255,255,255)"/>
<rect x="529.83" y="30.60" width="14.03" height="6.85" fill="rgb(255,255,255)"/>
<rect x="529.83" y="36.75" width="14.03" height="6.85" fill="rgb(255,255,255)"/>
<rect x="529.83" y="42.90" width="14.03" height="6.85" fill="rgb(255,255,255)"/>
<rect x="529.83" y="49.05" width="14.03" height="6.85" fill="rgb(255,255,255)"/>
<rect x="529.83" y="55.20" width="14.03" height="6.85" fill="rgb(255,255,255)"/>
<rect x="529.83" y="61.35" width="14.03" height="6.85" fill="rgb(255,255,255)"/>
<rect x="529.83" y="67.50" width="14.03" height="6.85" fill="rgb(255,255,255)"/>
<rect x="529.83" y="73.65" width="14.03" height="6.85" fill="rgb(255,255,255)"/>
<rect x="529.83" y="79.80" width="14.03" height="6.85" fill="rgb(255,255,255)"/>
<rect x="529.83" y="85.95" width="14.03" height="6.85" fill="rgb(255,255,255)"/>
<rect x="529.83" y="92.10" width="14.03" height="6.85" fill="rgb(255,255,255)"/>
<rect x="529.83" y="98.25" width="14.03" height="6.85" fill="rgb(255,255,255)"/>
<rect x="529.83" y="104.40" width="14.03" height="6.85" fill="rgb(255,255,255)"/>
<rect x="529.83" y="110.55" width="14.03" height="6.85" fill="rgb(255,255,255)"/>
<rect x="529.83" y="116.70" width="14.03" height="6.85" fill="rgb(255,255,255)"/>
<rect x="529.83" y="122.85" width="14.03" height="6.85" fill="rgb(255,255,255)"/>
<rect x="529.83" y="129.00" width="14.03" height="6.85" fill="rgb(255,255,255)"/>
<rect x="529.83" y="135.15" width="14.03" height="6.85" fill="rgb(255,255,255)"/>
<rect x="529.83" y="141.30" width="14.03" height="6.85" fill="rgb(255,255,255)"/>
<rect x="529.83" y="147.45" width="14.03" height="6.85" fill="rgb(255,255,255)"/>
<rect x="529.83" y="153.60" width="14.03" height="6.85" fill="rgb(255,255,255)"/>
<rect x="529.83" y="159.75" width="14.03" height="6.15" fill="rgb(255,255,255)"/>
<rect x="543.17" y="30.60" width="13.33" height="6.85" fill="rgb(212,168,179)"/>
<rect x="543.17" y="36.75" width="13.33" height="6.85" fill="rgb(212,168,179)"/>
<rect x="543.17" y="42.90" width="13.33" height="6.85" fill="rgb(212,168,179)"/>
<rect x="543.17" y="49.05" width="13.33" height="6.85" fill="rgb(212,168,179)"/>
<rect x="543.17" y="55.20" width="13.33" height="6.85" fill="rgb(212,168,179)"/>
<rect x="543.17" y="61.35" width="13.33" height="6.85" fill="rgb(212,168,179)"/>
<rect x="543.17" y="67.50" width="13.33" height="6.85" fill="rgb(212,168,179)"/>
<rect x="543.17" y="73.65" width="13.33" height="6.85" fill="rgb(212,168,179)"/>
<rect x="543.17" y="79.80" width="13.33" height="6.85" fill="rgb(212,168,179)"/>
<rect x="543.17" y="85.95" width="13.33" height="6.85" fill="rgb(212,168,179)"/>
<rect x="543.17" y="92.10" width="13.33" height="6.85" fill="rgb(212,168,179)"/>
<rect x="543.17" y="98.25" width="13.33" height="6.85" fill="rgb(212,168,179)"/>
<rect x="543.17" y="104.40" width="13.33" height="6.85" fill="rgb(212,168,179)"/>
<rect x="543.17" y="110.55" width="13.33" height="6.85" fill="rgb(212,168,179)"/>
<rect x="543.17" y="116.70" width="13.33" height="6.85" fill="rgb(212,168,179)"/>
<rect x="543.17" y="122.85" width="13.33" height="6.85" fill="rgb(212,168,179)"/>
<rect x="543.17" y="129.00" width="13.33" height="6.85" fill="rgb(212,168,179)"/>
<rect x="543.17" y="135.15" width="13.33" height="6.85" fill="rgb(212,168,179)"/>
<rect x="543.17" y="141.30" width="13.33" height="6.85" fill="rgb(212,168,179)"/>
<rect x="543.17" y="147.45" width="13.33" height="6.85" fill="rgb(212,168,179)"/>
<rect x="543.17" y="153.60" width="13.33" height="6.85" fill="rgb(212,168,179)"/>
<rect x="543.17" y="159.75" width="13.33" height="6.15" fill="rgb(212,168,179)"/>
<rect x="476.50" y="30.60" width="80.0" height="135.3" fill="none" stroke="#2a2a2a" stroke-width="0.8"/>
<text x="515.40" y="27.00" font-size="8.2" text-anchor="middle" font-weight="normal" fill="#000" >Llama 3.3 70B</text>
<line x1="474.10" y1="33.68" x2="476.50" y2="33.68" stroke="#111" stroke-width="0.85"/>
<text x="471.80" y="35.58" font-size="7.3" text-anchor="end" font-weight="normal" fill="#000" >1</text>
<line x1="474.10" y1="39.83" x2="476.50" y2="39.83" stroke="#111" stroke-width="0.85"/>
<text x="471.80" y="41.73" font-size="7.3" text-anchor="end" font-weight="normal" fill="#000" >2</text>
<line x1="474.10" y1="45.98" x2="476.50" y2="45.98" stroke="#111" stroke-width="0.85"/>
<text x="471.80" y="47.88" font-size="7.3" text-anchor="end" font-weight="normal" fill="#000" >3</text>
<line x1="474.10" y1="52.12" x2="476.50" y2="52.12" stroke="#111" stroke-width="0.85"/>
<text x="471.80" y="54.02" font-size="7.3" text-anchor="end" font-weight="normal" fill="#000" >4</text>
<line x1="474.10" y1="58.28" x2="476.50" y2="58.28" stroke="#111" stroke-width="0.85"/>
<text x="471.80" y="60.18" font-size="7.3" text-anchor="end" font-weight="normal" fill="#000" >5</text>
<line x1="474.10" y1="64.43" x2="476.50" y2="64.43" stroke="#111" stroke-width="0.85"/>
<text x="471.80" y="66.33" font-size="7.3" text-anchor="end" font-weight="normal" fill="#000" >6</text>
<line x1="474.10" y1="70.58" x2="476.50" y2="70.58" stroke="#111" stroke-width="0.85"/>
<text x="471.80" y="72.48" font-size="7.3" text-anchor="end" font-weight="normal" fill="#000" >7</text>
<line x1="474.10" y1="76.72" x2="476.50" y2="76.72" stroke="#111" stroke-width="0.85"/>
<text x="471.80" y="78.62" font-size="7.3" text-anchor="end" font-weight="normal" fill="#000" >8</text>
<line x1="474.10" y1="82.88" x2="476.50" y2="82.88" stroke="#111" stroke-width="0.85"/>
<text x="471.80" y="84.78" font-size="7.3" text-anchor="end" font-weight="normal" fill="#000" >9</text>
<line x1="474.10" y1="89.03" x2="476.50" y2="89.03" stroke="#111" stroke-width="0.85"/>
<text x="471.80" y="90.93" font-size="7.3" text-anchor="end" font-weight="normal" fill="#000" >10</text>
<line x1="474.10" y1="95.18" x2="476.50" y2="95.18" stroke="#111" stroke-width="0.85"/>
<text x="471.80" y="97.08" font-size="7.3" text-anchor="end" font-weight="normal" fill="#000" >11</text>
<line x1="474.10" y1="101.33" x2="476.50" y2="101.33" stroke="#111" stroke-width="0.85"/>
<text x="471.80" y="103.23" font-size="7.3" text-anchor="end" font-weight="normal" fill="#000" >12</text>
<line x1="474.10" y1="107.47" x2="476.50" y2="107.47" stroke="#111" stroke-width="0.85"/>
<text x="471.80" y="109.38" font-size="7.3" text-anchor="end" font-weight="normal" fill="#000" >13</text>
<line x1="474.10" y1="113.62" x2="476.50" y2="113.62" stroke="#111" stroke-width="0.85"/>
<text x="471.80" y="115.53" font-size="7.3" text-anchor="end" font-weight="normal" fill="#000" >14</text>
<line x1="474.10" y1="119.78" x2="476.50" y2="119.78" stroke="#111" stroke-width="0.85"/>
<text x="471.80" y="121.68" font-size="7.3" text-anchor="end" font-weight="normal" fill="#000" >15</text>
<line x1="474.10" y1="125.93" x2="476.50" y2="125.93" stroke="#111" stroke-width="0.85"/>
<text x="471.80" y="127.83" font-size="7.3" text-anchor="end" font-weight="normal" fill="#000" >16</text>
<line x1="474.10" y1="132.08" x2="476.50" y2="132.08" stroke="#111" stroke-width="0.85"/>
<text x="471.80" y="133.98" font-size="7.3" text-anchor="end" font-weight="normal" fill="#000" >17</text>
<line x1="474.10" y1="138.22" x2="476.50" y2="138.22" stroke="#111" stroke-width="0.85"/>
<text x="471.80" y="140.12" font-size="7.3" text-anchor="end" font-weight="normal" fill="#000" >18</text>
<line x1="474.10" y1="144.38" x2="476.50" y2="144.38" stroke="#111" stroke-width="0.85"/>
<text x="471.80" y="146.28" font-size="7.3" text-anchor="end" font-weight="normal" fill="#000" >19</text>
<line x1="474.10" y1="150.53" x2="476.50" y2="150.53" stroke="#111" stroke-width="0.85"/>
<text x="471.80" y="152.43" font-size="7.3" text-anchor="end" font-weight="normal" fill="#000" >20</text>
<line x1="474.10" y1="156.68" x2="476.50" y2="156.68" stroke="#111" stroke-width="0.85"/>
<text x="471.80" y="158.58" font-size="7.3" text-anchor="end" font-weight="normal" fill="#000" >21</text>
<line x1="474.10" y1="162.82" x2="476.50" y2="162.82" stroke="#111" stroke-width="0.85"/>
<text x="471.80" y="164.72" font-size="7.3" text-anchor="end" font-weight="normal" fill="#000" >22</text>
<line x1="483.17" y1="165.90" x2="483.17" y2="169.30" stroke="#111" stroke-width="0.9"/>
<text x="485.17" y="176.10" font-size="8.2" text-anchor="end" font-weight="normal" fill="#000" transform="rotate(-45 485.17 176.10)">Period Accuracy</text>
<line x1="496.50" y1="165.90" x2="496.50" y2="169.30" stroke="#111" stroke-width="0.9"/>
<text x="498.50" y="176.10" font-size="8.2" text-anchor="end" font-weight="normal" fill="#000" transform="rotate(-45 498.50 176.10)">Style Granularity</text>
<line x1="509.83" y1="165.90" x2="509.83" y2="169.30" stroke="#111" stroke-width="0.9"/>
<text x="511.83" y="176.10" font-size="8.2" text-anchor="end" font-weight="normal" fill="#000" transform="rotate(-45 511.83 176.10)">Detail Richness</text>
<line x1="523.17" y1="165.90" x2="523.17" y2="169.30" stroke="#111" stroke-width="0.9"/>
<text x="525.17" y="176.10" font-size="8.2" text-anchor="end" font-weight="normal" fill="#000" transform="rotate(-45 525.17 176.10)">Term Consistency</text>
<line x1="536.50" y1="165.90" x2="536.50" y2="169.30" stroke="#111" stroke-width="0.9"/>
<text x="538.50" y="176.10" font-size="8.2" text-anchor="end" font-weight="normal" fill="#000" transform="rotate(-45 538.50 176.10)">Cultural Depth</text>
<line x1="549.83" y1="165.90" x2="549.83" y2="169.30" stroke="#111" stroke-width="0.9"/>
<text x="551.83" y="176.10" font-size="8.2" text-anchor="end" font-weight="normal" fill="#000" transform="rotate(-45 551.83 176.10)">Logic &amp; Coherence</text>
<rect x="577.60" y="31.30" width="14.03" height="6.85" fill="rgb(255,255,255)"/>
<rect x="577.60" y="37.45" width="14.03" height="6.85" fill="rgb(255,255,255)"/>
<rect x="577.60" y="43.60" width="14.03" height="6.85" fill="rgb(255,255,255)"/>
<rect x="577.60" y="49.75" width="14.03" height="6.85" fill="rgb(255,255,255)"/>
<rect x="577.60" y="55.90" width="14.03" height="6.85" fill="rgb(255,255,255)"/>
<rect x="577.60" y="62.05" width="14.03" height="6.85" fill="rgb(255,255,255)"/>
<rect x="577.60" y="68.20" width="14.03" height="6.85" fill="rgb(255,255,255)"/>
<rect x="577.60" y="74.35" width="14.03" height="6.85" fill="rgb(255,255,255)"/>
<rect x="577.60" y="80.50" width="14.03" height="6.85" fill="rgb(255,255,255)"/>
<rect x="577.60" y="86.65" width="14.03" height="6.85" fill="rgb(255,255,255)"/>
<rect x="577.60" y="92.80" width="14.03" height="6.85" fill="rgb(255,255,255)"/>
<rect x="577.60" y="98.95" width="14.03" height="6.85" fill="rgb(255,255,255)"/>
<rect x="577.60" y="105.10" width="14.03" height="6.85" fill="rgb(255,255,255)"/>
<rect x="577.60" y="111.25" width="14.03" height="6.85" fill="rgb(255,255,255)"/>
<rect x="577.60" y="117.40" width="14.03" height="6.85" fill="rgb(255,255,255)"/>
<rect x="577.60" y="123.55" width="14.03" height="6.85" fill="rgb(255,255,255)"/>
<rect x="577.60" y="129.70" width="14.03" height="6.85" fill="rgb(255,255,255)"/>
<rect x="577.60" y="135.85" width="14.03" height="6.85" fill="rgb(255,255,255)"/>
<rect x="577.60" y="142.00" width="14.03" height="6.85" fill="rgb(255,255,255)"/>
<rect x="577.60" y="148.15" width="14.03" height="6.85" fill="rgb(255,255,255)"/>
<rect x="577.60" y="154.30" width="14.03" height="6.85" fill="rgb(255,255,255)"/>
<rect x="577.60" y="160.45" width="14.03" height="6.15" fill="rgb(255,255,255)"/>
<rect x="590.93" y="31.30" width="14.03" height="6.85" fill="rgb(255,255,255)"/>
<rect x="590.93" y="37.45" width="14.03" height="6.85" fill="rgb(255,255,255)"/>
<rect x="590.93" y="43.60" width="14.03" height="6.85" fill="rgb(255,255,255)"/>
<rect x="590.93" y="49.75" width="14.03" height="6.85" fill="rgb(255,255,255)"/>
<rect x="590.93" y="55.90" width="14.03" height="6.85" fill="rgb(255,255,255)"/>
<rect x="590.93" y="62.05" width="14.03" height="6.85" fill="rgb(255,255,255)"/>
<rect x="590.93" y="68.20" width="14.03" height="6.85" fill="rgb(255,255,255)"/>
<rect x="590.93" y="74.35" width="14.03" height="6.85" fill="rgb(255,255,255)"/>
<rect x="590.93" y="80.50" width="14.03" height="6.85" fill="rgb(255,255,255)"/>
<rect x="590.93" y="86.65" width="14.03" height="6.85" fill="rgb(255,255,255)"/>
<rect x="590.93" y="92.80" width="14.03" height="6.85" fill="rgb(255,255,255)"/>
<rect x="590.93" y="98.95" width="14.03" height="6.85" fill="rgb(255,255,255)"/>
<rect x="590.93" y="105.10" width="14.03" height="6.85" fill="rgb(255,255,255)"/>
<rect x="590.93" y="111.25" width="14.03" height="6.85" fill="rgb(255,255,255)"/>
<rect x="590.93" y="117.40" width="14.03" height="6.85" fill="rgb(255,255,255)"/>
<rect x="590.93" y="123.55" width="14.03" height="6.85" fill="rgb(255,255,255)"/>
<rect x="590.93" y="129.70" width="14.03" height="6.85" fill="rgb(255,255,255)"/>
<rect x="590.93" y="135.85" width="14.03" height="6.85" fill="rgb(255,255,255)"/>
<rect x="590.93" y="142.00" width="14.03" height="6.85" fill="rgb(255,255,255)"/>
<rect x="590.93" y="148.15" width="14.03" height="6.85" fill="rgb(255,255,255)"/>
<rect x="590.93" y="154.30" width="14.03" height="6.85" fill="rgb(255,255,255)"/>
<rect x="590.93" y="160.45" width="14.03" height="6.15" fill="rgb(255,255,255)"/>
<rect x="604.27" y="31.30" width="14.03" height="6.85" fill="rgb(233,214,219)"/>
<rect x="604.27" y="37.45" width="14.03" height="6.85" fill="rgb(233,214,219)"/>
<rect x="604.27" y="43.60" width="14.03" height="6.85" fill="rgb(233,214,219)"/>
<rect x="604.27" y="49.75" width="14.03" height="6.85" fill="rgb(233,214,219)"/>
<rect x="604.27" y="55.90" width="14.03" height="6.85" fill="rgb(233,214,219)"/>
<rect x="604.27" y="62.05" width="14.03" height="6.85" fill="rgb(233,214,219)"/>
<rect x="604.27" y="68.20" width="14.03" height="6.85" fill="rgb(233,214,219)"/>
<rect x="604.27" y="74.35" width="14.03" height="6.85" fill="rgb(233,214,219)"/>
<rect x="604.27" y="80.50" width="14.03" height="6.85" fill="rgb(233,214,219)"/>
<rect x="604.27" y="86.65" width="14.03" height="6.85" fill="rgb(233,214,219)"/>
<rect x="604.27" y="92.80" width="14.03" height="6.85" fill="rgb(233,214,219)"/>
<rect x="604.27" y="98.95" width="14.03" height="6.85" fill="rgb(255,255,255)"/>
<rect x="604.27" y="105.10" width="14.03" height="6.85" fill="rgb(255,255,255)"/>
<rect x="604.27" y="111.25" width="14.03" height="6.85" fill="rgb(255,255,255)"/>
<rect x="604.27" y="117.40" width="14.03" height="6.85" fill="rgb(255,255,255)"/>
<rect x="604.27" y="123.55" width="14.03" height="6.85" fill="rgb(255,255,255)"/>
<rect x="604.27" y="129.70" width="14.03" height="6.85" fill="rgb(255,255,255)"/>
<rect x="604.27" y="135.85" width="14.03" height="6.85" fill="rgb(255,255,255)"/>
<rect x="604.27" y="142.00" width="14.03" height="6.85" fill="rgb(255,255,255)"/>
<rect x="604.27" y="148.15" width="14.03" height="6.85" fill="rgb(255,255,255)"/>
<rect x="604.27" y="154.30" width="14.03" height="6.85" fill="rgb(255,255,255)"/>
<rect x="604.27" y="160.45" width="14.03" height="6.15" fill="rgb(255,255,255)"/>
<rect x="617.60" y="31.30" width="14.03" height="6.85" fill="rgb(255,255,255)"/>
<rect x="617.60" y="37.45" width="14.03" height="6.85" fill="rgb(255,255,255)"/>
<rect x="617.60" y="43.60" width="14.03" height="6.85" fill="rgb(255,255,255)"/>
<rect x="617.60" y="49.75" width="14.03" height="6.85" fill="rgb(255,255,255)"/>
<rect x="617.60" y="55.90" width="14.03" height="6.85" fill="rgb(255,255,255)"/>
<rect x="617.60" y="62.05" width="14.03" height="6.85" fill="rgb(255,255,255)"/>
<rect x="617.60" y="68.20" width="14.03" height="6.85" fill="rgb(255,255,255)"/>
<rect x="617.60" y="74.35" width="14.03" height="6.85" fill="rgb(255,255,255)"/>
<rect x="617.60" y="80.50" width="14.03" height="6.85" fill="rgb(255,255,255)"/>
<rect x="617.60" y="86.65" width="14.03" height="6.85" fill="rgb(255,255,255)"/>
<rect x="617.60" y="92.80" width="14.03" height="6.85" fill="rgb(255,255,255)"/>
<rect x="617.60" y="98.95" width="14.03" height="6.85" fill="rgb(255,255,255)"/>
<rect x="617.60" y="105.10" width="14.03" height="6.85" fill="rgb(255,255,255)"/>
<rect x="617.60" y="111.25" width="14.03" height="6.85" fill="rgb(255,255,255)"/>
<rect x="617.60" y="117.40" width="14.03" height="6.85" fill="rgb(255,255,255)"/>
<rect x="617.60" y="123.55" width="14.03" height="6.85" fill="rgb(255,255,255)"/>
<rect x="617.60" y="129.70" width="14.03" height="6.85" fill="rgb(255,255,255)"/>
<rect x="617.60" y="135.85" width="14.03" height="6.85" fill="rgb(255,255,255)"/>
<rect x="617.60" y="142.00" width="14.03" height="6.85" fill="rgb(255,255,255)"/>
<rect x="617.60" y="148.15" width="14.03" height="6.85" fill="rgb(255,255,255)"/>
<rect x="617.60" y="154.30" width="14.03" height="6.85" fill="rgb(255,255,255)"/>
<rect x="617.60" y="160.45" width="14.03" height="6.15" fill="rgb(255,255,255)"/>
<rect x="630.93" y="31.30" width="14.03" height="6.85" fill="rgb(255,255,255)"/>
<rect x="630.93" y="37.45" width="14.03" height="6.85" fill="rgb(255,255,255)"/>
<rect x="630.93" y="43.60" width="14.03" height="6.85" fill="rgb(255,255,255)"/>
<rect x="630.93" y="49.75" width="14.03" height="6.85" fill="rgb(255,255,255)"/>
<rect x="630.93" y="55.90" width="14.03" height="6.85" fill="rgb(255,255,255)"/>
<rect x="630.93" y="62.05" width="14.03" height="6.85" fill="rgb(255,255,255)"/>
<rect x="630.93" y="68.20" width="14.03" height="6.85" fill="rgb(255,255,255)"/>
<rect x="630.93" y="74.35" width="14.03" height="6.85" fill="rgb(255,255,255)"/>
<rect x="630.93" y="80.50" width="14.03" height="6.85" fill="rgb(255,255,255)"/>
<rect x="630.93" y="86.65" width="14.03" height="6.85" fill="rgb(255,255,255)"/>
<rect x="630.93" y="92.80" width="14.03" height="6.85" fill="rgb(255,255,255)"/>
<rect x="630.93" y="98.95" width="14.03" height="6.85" fill="rgb(255,255,255)"/>
<rect x="630.93" y="105.10" width="14.03" height="6.85" fill="rgb(255,255,255)"/>
<rect x="630.93" y="111.25" width="14.03" height="6.85" fill="rgb(255,255,255)"/>
<rect x="630.93" y="117.40" width="14.03" height="6.85" fill="rgb(255,255,255)"/>
<rect x="630.93" y="123.55" width="14.03" height="6.85" fill="rgb(255,255,255)"/>
<rect x="630.93" y="129.70" width="14.03" height="6.85" fill="rgb(255,255,255)"/>
<rect x="630.93" y="135.85" width="14.03" height="6.85" fill="rgb(255,255,255)"/>
<rect x="630.93" y="142.00" width="14.03" height="6.85" fill="rgb(255,255,255)"/>
<rect x="630.93" y="148.15" width="14.03" height="6.85" fill="rgb(255,255,255)"/>
<rect x="630.93" y="154.30" width="14.03" height="6.85" fill="rgb(255,255,255)"/>
<rect x="630.93" y="160.45" width="14.03" height="6.15" fill="rgb(255,255,255)"/>
<rect x="644.27" y="31.30" width="13.33" height="6.85" fill="rgb(212,168,179)"/>
<rect x="644.27" y="37.45" width="13.33" height="6.85" fill="rgb(212,168,179)"/>
<rect x="644.27" y="43.60" width="13.33" height="6.85" fill="rgb(212,168,179)"/>
<rect x="644.27" y="49.75" width="13.33" height="6.85" fill="rgb(212,168,179)"/>
<rect x="644.27" y="55.90" width="13.33" height="6.85" fill="rgb(212,168,179)"/>
<rect x="644.27" y="62.05" width="13.33" height="6.85" fill="rgb(212,168,179)"/>
<rect x="644.27" y="68.20" width="13.33" height="6.85" fill="rgb(212,168,179)"/>
<rect x="644.27" y="74.35" width="13.33" height="6.85" fill="rgb(212,168,179)"/>
<rect x="644.27" y="80.50" width="13.33" height="6.85" fill="rgb(212,168,179)"/>
<rect x="644.27" y="86.65" width="13.33" height="6.85" fill="rgb(212,168,179)"/>
<rect x="644.27" y="92.80" width="13.33" height="6.85" fill="rgb(212,168,179)"/>
<rect x="644.27" y="98.95" width="13.33" height="6.85" fill="rgb(212,168,179)"/>
<rect x="644.27" y="105.10" width="13.33" height="6.85" fill="rgb(212,168,179)"/>
<rect x="644.27" y="111.25" width="13.33" height="6.85" fill="rgb(212,168,179)"/>
<rect x="644.27" y="117.40" width="13.33" height="6.85" fill="rgb(212,168,179)"/>
<rect x="644.27" y="123.55" width="13.33" height="6.85" fill="rgb(212,168,179)"/>
<rect x="644.27" y="129.70" width="13.33" height="6.85" fill="rgb(212,168,179)"/>
<rect x="644.27" y="135.85" width="13.33" height="6.85" fill="rgb(212,168,179)"/>
<rect x="644.27" y="142.00" width="13.33" height="6.85" fill="rgb(212,168,179)"/>
<rect x="644.27" y="148.15" width="13.33" height="6.85" fill="rgb(212,168,179)"/>
<rect x="644.27" y="154.30" width="13.33" height="6.85" fill="rgb(212,168,179)"/>
<rect x="644.27" y="160.45" width="13.33" height="6.15" fill="rgb(212,168,179)"/>
<rect x="577.60" y="31.30" width="80.0" height="135.3" fill="none" stroke="#2a2a2a" stroke-width="0.8"/>
<text x="615.50" y="27.00" font-size="8.2" text-anchor="middle" font-weight="normal" fill="#000" >Grok Beta</text>
<line x1="575.20" y1="34.38" x2="577.60" y2="34.38" stroke="#111" stroke-width="0.85"/>
<text x="572.90" y="36.27" font-size="7.3" text-anchor="end" font-weight="normal" fill="#000" >1</text>
<line x1="575.20" y1="40.53" x2="577.60" y2="40.53" stroke="#111" stroke-width="0.85"/>
<text x="572.90" y="42.43" font-size="7.3" text-anchor="end" font-weight="normal" fill="#000" >2</text>
<line x1="575.20" y1="46.67" x2="577.60" y2="46.67" stroke="#111" stroke-width="0.85"/>
<text x="572.90" y="48.57" font-size="7.3" text-anchor="end" font-weight="normal" fill="#000" >3</text>
<line x1="575.20" y1="52.83" x2="577.60" y2="52.83" stroke="#111" stroke-width="0.85"/>
<text x="572.90" y="54.73" font-size="7.3" text-anchor="end" font-weight="normal" fill="#000" >4</text>
<line x1="575.20" y1="58.98" x2="577.60" y2="58.98" stroke="#111" stroke-width="0.85"/>
<text x="572.90" y="60.88" font-size="7.3" text-anchor="end" font-weight="normal" fill="#000" >5</text>
<line x1="575.20" y1="65.12" x2="577.60" y2="65.12" stroke="#111" stroke-width="0.85"/>
<text x="572.90" y="67.03" font-size="7.3" text-anchor="end" font-weight="normal" fill="#000" >6</text>
<line x1="575.20" y1="71.28" x2="577.60" y2="71.28" stroke="#111" stroke-width="0.85"/>
<text x="572.90" y="73.18" font-size="7.3" text-anchor="end" font-weight="normal" fill="#000" >7</text>
<line x1="575.20" y1="77.42" x2="577.60" y2="77.42" stroke="#111" stroke-width="0.85"/>
<text x="572.90" y="79.33" font-size="7.3" text-anchor="end" font-weight="normal" fill="#000" >8</text>
<line x1="575.20" y1="83.58" x2="577.60" y2="83.58" stroke="#111" stroke-width="0.85"/>
<text x="572.90" y="85.48" font-size="7.3" text-anchor="end" font-weight="normal" fill="#000" >9</text>
<line x1="575.20" y1="89.73" x2="577.60" y2="89.73" stroke="#111" stroke-width="0.85"/>
<text x="572.90" y="91.63" font-size="7.3" text-anchor="end" font-weight="normal" fill="#000" >10</text>
<line x1="575.20" y1="95.88" x2="577.60" y2="95.88" stroke="#111" stroke-width="0.85"/>
<text x="572.90" y="97.78" font-size="7.3" text-anchor="end" font-weight="normal" fill="#000" >11</text>
<line x1="575.20" y1="102.03" x2="577.60" y2="102.03" stroke="#111" stroke-width="0.85"/>
<text x="572.90" y="103.93" font-size="7.3" text-anchor="end" font-weight="normal" fill="#000" >12</text>
<line x1="575.20" y1="108.17" x2="577.60" y2="108.17" stroke="#111" stroke-width="0.85"/>
<text x="572.90" y="110.08" font-size="7.3" text-anchor="end" font-weight="normal" fill="#000" >13</text>
<line x1="575.20" y1="114.33" x2="577.60" y2="114.33" stroke="#111" stroke-width="0.85"/>
<text x="572.90" y="116.23" font-size="7.3" text-anchor="end" font-weight="normal" fill="#000" >14</text>
<line x1="575.20" y1="120.48" x2="577.60" y2="120.48" stroke="#111" stroke-width="0.85"/>
<text x="572.90" y="122.38" font-size="7.3" text-anchor="end" font-weight="normal" fill="#000" >15</text>
<line x1="575.20" y1="126.62" x2="577.60" y2="126.62" stroke="#111" stroke-width="0.85"/>
<text x="572.90" y="128.53" font-size="7.3" text-anchor="end" font-weight="normal" fill="#000" >16</text>
<line x1="575.20" y1="132.78" x2="577.60" y2="132.78" stroke="#111" stroke-width="0.85"/>
<text x="572.90" y="134.68" font-size="7.3" text-anchor="end" font-weight="normal" fill="#000" >17</text>
<line x1="575.20" y1="138.93" x2="577.60" y2="138.93" stroke="#111" stroke-width="0.85"/>
<text x="572.90" y="140.83" font-size="7.3" text-anchor="end" font-weight="normal" fill="#000" >18</text>
<line x1="575.20" y1="145.08" x2="577.60" y2="145.08" stroke="#111" stroke-width="0.85"/>
<text x="572.90" y="146.98" font-size="7.3" text-anchor="end" font-weight="normal" fill="#000" >19</text>
<line x1="575.20" y1="151.23" x2="577.60" y2="151.23" stroke="#111" stroke-width="0.85"/>
<text x="572.90" y="153.13" font-size="7.3" text-anchor="end" font-weight="normal" fill="#000" >20</text>
<line x1="575.20" y1="157.38" x2="577.60" y2="157.38" stroke="#111" stroke-width="0.85"/>
<text x="572.90" y="159.28" font-size="7.3" text-anchor="end" font-weight="normal" fill="#000" >21</text>
<line x1="575.20" y1="163.53" x2="577.60" y2="163.53" stroke="#111" stroke-width="0.85"/>
<text x="572.90" y="165.43" font-size="7.3" text-anchor="end" font-weight="normal" fill="#000" >22</text>
<line x1="584.27" y1="166.60" x2="584.27" y2="170.00" stroke="#111" stroke-width="0.9"/>
<text x="586.27" y="176.80" font-size="8.2" text-anchor="end" font-weight="normal" fill="#000" transform="rotate(-45 586.27 176.80)">Period Accuracy</text>
<line x1="597.60" y1="166.60" x2="597.60" y2="170.00" stroke="#111" stroke-width="0.9"/>
<text x="599.60" y="176.80" font-size="8.2" text-anchor="end" font-weight="normal" fill="#000" transform="rotate(-45 599.60 176.80)">Style Granularity</text>
<line x1="610.93" y1="166.60" x2="610.93" y2="170.00" stroke="#111" stroke-width="0.9"/>
<text x="612.93" y="176.80" font-size="8.2" text-anchor="end" font-weight="normal" fill="#000" transform="rotate(-45 612.93 176.80)">Detail Richness</text>
<line x1="624.27" y1="166.60" x2="624.27" y2="170.00" stroke="#111" stroke-width="0.9"/>
<text x="626.27" y="176.80" font-size="8.2" text-anchor="end" font-weight="normal" fill="#000" transform="rotate(-45 626.27 176.80)">Term Consistency</text>
<line x1="637.60" y1="166.60" x2="637.60" y2="170.00" stroke="#111" stroke-width="0.9"/>
<text x="639.60" y="176.80" font-size="8.2" text-anchor="end" font-weight="normal" fill="#000" transform="rotate(-45 639.60 176.80)">Cultural Depth</text>
<line x1="650.93" y1="166.60" x2="650.93" y2="170.00" stroke="#111" stroke-width="0.9"/>
<text x="652.93" y="176.80" font-size="8.2" text-anchor="end" font-weight="normal" fill="#000" transform="rotate(-45 652.93 176.80)">Logic &amp; Coherence</text>
<defs><linearGradient id="gb" x1="0" y1="0" x2="0" y2="1"><stop offset="0.000" stop-color="rgb(106,117,178)"/><stop offset="0.250" stop-color="rgb(139,149,198)"/><stop offset="0.500" stop-color="rgb(178,186,218)"/><stop offset="0.750" stop-color="rgb(216,220,237)"/><stop offset="1.000" stop-color="rgb(255,255,255)"/></linearGradient></defs>
<rect x="122.40" y="31.10" width="9.6" height="135.3" fill="url(#gb)" stroke="#333" stroke-width="0.7"/>
<text x="138.40" y="34.10" font-size="8.3" text-anchor="start" font-weight="normal" fill="#000" >5</text>
<path d="M122.40,64.93 h2.7 M129.30,64.93 h2.7" stroke="#1a1a1a" stroke-width="0.95"/>
<text x="138.40" y="67.93" font-size="8.3" text-anchor="start" font-weight="normal" fill="#000" >4</text>
<path d="M122.40,98.75 h2.7 M129.30,98.75 h2.7" stroke="#1a1a1a" stroke-width="0.95"/>
<text x="138.40" y="101.75" font-size="8.3" text-anchor="start" font-weight="normal" fill="#000" >3</text>
<path d="M122.40,132.58 h2.7 M129.30,132.58 h2.7" stroke="#1a1a1a" stroke-width="0.95"/>
<text x="138.40" y="135.58" font-size="8.3" text-anchor="start" font-weight="normal" fill="#000" >2</text>
<text x="138.40" y="169.40" font-size="8.3" text-anchor="start" font-weight="normal" fill="#000" >1</text>
<defs><linearGradient id="gr" x1="0" y1="0" x2="0" y2="1"><stop offset="0.000" stop-color="rgb(166,84,106)"/><stop offset="0.250" stop-color="rgb(196,135,151)"/><stop offset="0.500" stop-color="rgb(212,168,179)"/><stop offset="0.750" stop-color="rgb(233,214,219)"/><stop offset="1.000" stop-color="rgb(255,255,255)"/></linearGradient></defs>
<rect x="662.60" y="31.10" width="9.6" height="135.3" fill="url(#gr)" stroke="#333" stroke-width="0.7"/>
<text x="678.60" y="34.10" font-size="8.3" text-anchor="start" font-weight="normal" fill="#000" >5</text>
<path d="M662.60,64.93 h2.7 M669.50,64.93 h2.7" stroke="#1a1a1a" stroke-width="0.95"/>
<text x="678.60" y="67.93" font-size="8.3" text-anchor="start" font-weight="normal" fill="#000" >4</text>
<path d="M662.60,98.75 h2.7 M669.50,98.75 h2.7" stroke="#1a1a1a" stroke-width="0.95"/>
<text x="678.60" y="101.75" font-size="8.3" text-anchor="start" font-weight="normal" fill="#000" >3</text>
<path d="M662.60,132.58 h2.7 M669.50,132.58 h2.7" stroke="#1a1a1a" stroke-width="0.95"/>
<text x="678.60" y="135.58" font-size="8.3" text-anchor="start" font-weight="normal" fill="#000" >2</text>
<text x="678.60" y="169.40" font-size="8.3" text-anchor="start" font-weight="normal" fill="#000" >1</text>
<text x="11.00" y="6.40" font-size="8.6" text-anchor="start" font-weight="bold" fill="#000" >a</text>
<text x="228.30" y="7.20" font-size="8.3" text-anchor="start" font-weight="normal" fill="#000" >Heatmaps of Evaluation Scores Across Models and Dimensions</text>
<text x="10.50" y="266.00" font-size="8.0" text-anchor="start" font-weight="normal" fill="#000" >b</text>
<text x="97.20" y="267.00" font-size="8.28" text-anchor="start" font-weight="normal" fill="#000" >Model-Predicted Dynastic Categories in Yuan Dynasty Sample Testing</text>
<g style="isolation:isolate">
<path d="M87.50,290.00 C199.87,290.00 224.83,403.00 337.20,403.00 L337.20,404.40 C224.83,404.40 199.87,291.21 87.50,291.21 Z" fill="rgb(120,126,193)" style="mix-blend-mode:multiply"/>
<path d="M87.50,291.21 C199.87,291.21 224.83,406.40 337.20,406.40 L337.20,408.60 C224.83,408.60 199.87,293.64 87.50,293.64 Z" fill="rgb(120,126,193)" style="mix-blend-mode:multiply"/>
<path d="M87.50,293.64 C199.87,293.64 224.83,431.20 337.20,431.20 L337.20,453.80 C224.83,453.80 199.87,316.70 87.50,316.70 Z" fill="rgb(120,126,193)" style="mix-blend-mode:multiply"/>
<path d="M87.50,318.80 C199.87,318.80 224.83,288.20 337.20,288.20 L337.20,290.65 C224.83,290.65 199.87,321.23 87.50,321.23 Z" fill="rgb(184,112,123)" style="mix-blend-mode:multiply"/>
<path d="M87.50,321.23 C199.87,321.23 224.83,305.10 337.20,305.10 L337.20,306.24 C224.83,306.24 199.87,322.44 87.50,322.44 Z" fill="rgb(184,112,123)" style="mix-blend-mode:multiply"/>
<path d="M87.50,322.44 C199.87,322.44 224.83,313.00 337.20,313.00 L337.20,322.57 C224.83,322.57 199.87,332.15 87.50,332.15 Z" fill="rgb(184,112,123)" style="mix-blend-mode:multiply"/>
<path d="M87.50,332.15 C199.87,332.15 224.83,377.40 337.20,377.40 L337.20,382.54 C224.83,382.54 199.87,337.00 87.50,337.00 Z" fill="rgb(184,112,123)" style="mix-blend-mode:multiply"/>
<path d="M87.50,337.00 C199.87,337.00 224.83,398.00 337.20,398.00 L337.20,400.70 C224.83,400.70 199.87,339.43 87.50,339.43 Z" fill="rgb(184,112,123)" style="mix-blend-mode:multiply"/>
<path d="M87.50,339.43 C199.87,339.43 224.83,408.60 337.20,408.60 L337.20,410.80 C224.83,410.80 199.87,341.86 87.50,341.86 Z" fill="rgb(184,112,123)" style="mix-blend-mode:multiply"/>
<path d="M87.50,341.86 C199.87,341.86 224.83,421.80 337.20,421.80 L337.20,425.25 C224.83,425.25 199.87,345.50 87.50,345.50 Z" fill="rgb(184,112,123)" style="mix-blend-mode:multiply"/>
<path d="M87.50,347.60 C199.87,347.60 224.83,290.65 337.20,290.65 L337.20,296.77 C224.83,296.77 199.87,353.67 87.50,353.67 Z" fill="rgb(177,123,155)" style="mix-blend-mode:multiply"/>
<path d="M87.50,353.67 C199.87,353.67 224.83,322.57 337.20,322.57 L337.20,334.53 C224.83,334.53 199.87,365.80 87.50,365.80 Z" fill="rgb(177,123,155)" style="mix-blend-mode:multiply"/>
<path d="M87.50,365.80 C199.87,365.80 224.83,410.80 337.20,410.80 L337.20,417.40 C224.83,417.40 199.87,373.09 87.50,373.09 Z" fill="rgb(177,123,155)" style="mix-blend-mode:multiply"/>
<path d="M87.50,373.09 C199.87,373.09 224.83,456.00 337.20,456.00 L337.20,457.20 C224.83,457.20 199.87,374.30 87.50,374.30 Z" fill="rgb(177,123,155)" style="mix-blend-mode:multiply"/>
<path d="M87.50,376.40 C199.87,376.40 224.83,284.00 337.20,284.00 L337.20,286.50 C224.83,286.50 199.87,378.83 87.50,378.83 Z" fill="rgb(228,172,167)" style="mix-blend-mode:multiply"/>
<path d="M87.50,378.83 C199.87,378.83 224.83,296.77 337.20,296.77 L337.20,302.90 C224.83,302.90 199.87,384.90 87.50,384.90 Z" fill="rgb(228,172,167)" style="mix-blend-mode:multiply"/>
<path d="M87.50,384.90 C199.87,384.90 224.83,306.24 337.20,306.24 L337.20,307.38 C224.83,307.38 199.87,386.11 87.50,386.11 Z" fill="rgb(228,172,167)" style="mix-blend-mode:multiply"/>
<path d="M87.50,386.11 C199.87,386.11 224.83,334.53 337.20,334.53 L337.20,342.90 C224.83,342.90 199.87,394.60 87.50,394.60 Z" fill="rgb(228,172,167)" style="mix-blend-mode:multiply"/>
<path d="M87.50,394.60 C199.87,394.60 224.83,382.54 337.20,382.54 L337.20,385.11 C224.83,385.11 199.87,397.03 87.50,397.03 Z" fill="rgb(228,172,167)" style="mix-blend-mode:multiply"/>
<path d="M87.50,397.03 C199.87,397.03 224.83,417.40 337.20,417.40 L337.20,418.50 C224.83,418.50 199.87,398.25 87.50,398.25 Z" fill="rgb(228,172,167)" style="mix-blend-mode:multiply"/>
<path d="M87.50,398.25 C199.87,398.25 224.83,457.20 337.20,457.20 L337.20,459.60 C224.83,459.60 199.87,400.67 87.50,400.67 Z" fill="rgb(228,172,167)" style="mix-blend-mode:multiply"/>
<path d="M87.50,400.67 C199.87,400.67 224.83,461.70 337.20,461.70 L337.20,464.10 C224.83,464.10 199.87,403.10 87.50,403.10 Z" fill="rgb(228,172,167)" style="mix-blend-mode:multiply"/>
<path d="M87.50,405.20 C199.87,405.20 224.83,342.90 337.20,342.90 L337.20,369.22 C224.83,369.22 199.87,431.90 87.50,431.90 Z" fill="rgb(150,123,108)" style="mix-blend-mode:multiply"/>
<path d="M87.50,434.00 C199.87,434.00 224.83,307.38 337.20,307.38 L337.20,310.80 C224.83,310.80 199.87,437.64 87.50,437.64 Z" fill="rgb(227,219,180)" style="mix-blend-mode:multiply"/>
<path d="M87.50,437.64 C199.87,437.64 224.83,369.22 337.20,369.22 L337.20,375.20 C224.83,375.20 199.87,443.71 87.50,443.71 Z" fill="rgb(227,219,180)" style="mix-blend-mode:multiply"/>
<path d="M87.50,443.71 C199.87,443.71 224.83,385.11 337.20,385.11 L337.20,395.40 C224.83,395.40 199.87,453.42 87.50,453.42 Z" fill="rgb(227,219,180)" style="mix-blend-mode:multiply"/>
<path d="M87.50,453.42 C199.87,453.42 224.83,418.50 337.20,418.50 L337.20,419.60 C224.83,419.60 199.87,454.63 87.50,454.63 Z" fill="rgb(227,219,180)" style="mix-blend-mode:multiply"/>
<path d="M87.50,454.63 C199.87,454.63 224.83,425.25 337.20,425.25 L337.20,428.70 C224.83,428.70 199.87,458.27 87.50,458.27 Z" fill="rgb(227,219,180)" style="mix-blend-mode:multiply"/>
<path d="M87.50,458.27 C199.87,458.27 224.83,464.10 337.20,464.10 L337.20,466.50 C224.83,466.50 199.87,460.70 87.50,460.70 Z" fill="rgb(227,219,180)" style="mix-blend-mode:multiply"/>
</g>
<rect x="81.0" y="290.00" width="6.50" height="26.70" fill="#000"/>
<text x="75.60" y="305.00" font-size="8.3" text-anchor="end" font-weight="normal" fill="#000" >CSN</text>
<rect x="81.0" y="318.80" width="6.50" height="26.70" fill="#000"/>
<text x="75.60" y="336.80" font-size="8.3" text-anchor="end" font-weight="normal" fill="#000" >GPT-4o</text>
<rect x="81.0" y="347.60" width="6.50" height="26.70" fill="#000"/>
<text x="75.60" y="362.20" font-size="8.3" text-anchor="end" font-weight="normal" fill="#000" >Claude 3.5</text>
<rect x="81.0" y="376.40" width="6.50" height="26.70" fill="#000"/>
<text x="75.60" y="388.20" font-size="8.3" text-anchor="end" font-weight="normal" fill="#000" >Gemini 1.5 Pro</text>
<rect x="81.0" y="405.20" width="6.50" height="26.70" fill="#000"/>
<text x="75.60" y="417.60" font-size="8.3" text-anchor="end" font-weight="normal" fill="#000" >Llama 3.3 70B</text>
<rect x="81.0" y="434.00" width="6.50" height="26.70" fill="#000"/>
<text x="75.60" y="449.40" font-size="8.3" text-anchor="end" font-weight="normal" fill="#000" >Grok Beta</text>
<rect x="337.2" y="284.00" width="6.80" height="2.50" fill="#000"/>
<text x="355.80" y="287.60" font-size="8.3" text-anchor="start" font-weight="normal" fill="#000" >Southern Dynasties</text>
<rect x="337.2" y="288.20" width="6.80" height="14.70" fill="#000"/>
<text x="355.80" y="298.30" font-size="8.3" text-anchor="start" font-weight="normal" fill="#000" >Northern Dynasties</text>
<rect x="337.2" y="305.10" width="6.80" height="5.70" fill="#000"/>
<text x="355.80" y="310.60" font-size="8.3" text-anchor="start" font-weight="normal" fill="#000" >Northern-Tang</text>
<rect x="337.2" y="313.00" width="6.80" height="62.20" fill="#000"/>
<text x="355.80" y="347.20" font-size="8.3" text-anchor="start" font-weight="normal" fill="#000" >Tang</text>
<rect x="337.2" y="377.40" width="6.80" height="18.00" fill="#000"/>
<text x="355.80" y="388.60" font-size="8.3" text-anchor="start" font-weight="normal" fill="#000" >Tang-Song</text>
<rect x="337.2" y="398.00" width="6.80" height="2.70" fill="#000"/>
<text x="355.80" y="399.80" font-size="8.3" text-anchor="start" font-weight="normal" fill="#000" >Tang-Five Dynasties</text>
<rect x="337.2" y="403.00" width="6.80" height="1.40" fill="#000"/>
<text x="355.80" y="407.20" font-size="8.3" text-anchor="start" font-weight="normal" fill="#000" >Five Dynasties</text>
<rect x="337.2" y="406.40" width="6.80" height="13.20" fill="#000"/>
<text x="355.80" y="415.50" font-size="8.3" text-anchor="start" font-weight="normal" fill="#000" >Song</text>
<rect x="337.2" y="421.80" width="6.80" height="6.90" fill="#000"/>
<text x="355.80" y="426.00" font-size="8.3" text-anchor="start" font-weight="normal" fill="#000" >Song-Yuan</text>
<rect x="337.2" y="431.20" width="6.80" height="22.60" fill="#000"/>
<text x="355.80" y="443.60" font-size="8.3" text-anchor="start" font-weight="normal" fill="#000" >Yuan</text>
<rect x="337.2" y="456.00" width="6.80" height="3.60" fill="#000"/>
<text x="355.80" y="459.80" font-size="8.3" text-anchor="start" font-weight="normal" fill="#000" >Ming-Qing</text>
<rect x="337.2" y="461.70" width="6.80" height="4.80" fill="#000"/>
<text x="355.80" y="468.50" font-size="8.3" text-anchor="start" font-weight="normal" fill="#000" >N/A</text>
<text x="81.00" y="480.60" font-size="8.3" text-anchor="start" font-weight="normal" fill="#000" >Models</text>
<text x="347.70" y="480.60" font-size="8.3" text-anchor="end" font-weight="normal" fill="#000" >Predicted Dynatic</text>
<text x="453.60" y="267.00" font-size="8.0" text-anchor="start" font-weight="normal" fill="#000" >c</text>
<text x="475.80" y="267.20" font-size="8.3" text-anchor="start" font-weight="normal" fill="#000" >In-Domain vs. Out-of-Domain Performance of CSN</text>
<line x1="497.7" y1="308.50" x2="497.7" y2="396.60" stroke="#222" stroke-width="0.9"/>
<line x1="497.3" y1="396.20" x2="660.5" y2="396.20" stroke="#222" stroke-width="0.9"/>
<line x1="494.4" y1="396.20" x2="497.7" y2="396.20" stroke="#222" stroke-width="0.9"/>
<text x="492.50" y="399.20" font-size="8.3" text-anchor="end" font-weight="normal" fill="#000" >0</text>
<line x1="494.4" y1="378.66" x2="497.7" y2="378.66" stroke="#222" stroke-width="0.9"/>
<text x="492.50" y="381.66" font-size="8.3" text-anchor="end" font-weight="normal" fill="#000" >1</text>
<line x1="494.4" y1="361.12" x2="497.7" y2="361.12" stroke="#222" stroke-width="0.9"/>
<text x="492.50" y="364.12" font-size="8.3" text-anchor="end" font-weight="normal" fill="#000" >2</text>
<line x1="494.4" y1="343.58" x2="497.7" y2="343.58" stroke="#222" stroke-width="0.9"/>
<text x="492.50" y="346.58" font-size="8.3" text-anchor="end" font-weight="normal" fill="#000" >3</text>
<line x1="494.4" y1="326.04" x2="497.7" y2="326.04" stroke="#222" stroke-width="0.9"/>
<text x="492.50" y="329.04" font-size="8.3" text-anchor="end" font-weight="normal" fill="#000" >4</text>
<line x1="494.4" y1="308.50" x2="497.7" y2="308.50" stroke="#222" stroke-width="0.9"/>
<text x="492.50" y="311.50" font-size="8.3" text-anchor="end" font-weight="normal" fill="#000" >5</text>
<text x="0.00" y="0.00" font-size="7.7" text-anchor="middle" font-weight="normal" fill="#000" transform="translate(481.0 353.8) rotate(-90)">Score (Mean ± SD)</text>
<rect x="501.35" y="316.04" width="6.35" height="80.16" fill="rgb(91,99,172)" stroke="#3a3a4a" stroke-width="0.5"/>
<line x1="504.53" y1="313.00" x2="504.53" y2="323.94" stroke="#555" stroke-width="0.75"/>
<line x1="502.73" y1="323.94" x2="506.33" y2="323.94" stroke="#555" stroke-width="0.75"/>
<rect x="511.70" y="374.63" width="6.35" height="21.57" fill="rgb(178,79,101)" stroke="#3a3a4a" stroke-width="0.5"/>
<line x1="514.88" y1="365.50" x2="514.88" y2="383.75" stroke="#555" stroke-width="0.75"/>
<line x1="513.08" y1="383.75" x2="516.67" y2="383.75" stroke="#555" stroke-width="0.75"/>
<line x1="513.08" y1="365.50" x2="516.67" y2="365.50" stroke="#555" stroke-width="0.75"/>
<path d="M504.53,313.00 L504.53,300.9 L514.88,300.9 L514.88,353.80" fill="none" stroke="#333" stroke-width="0.9"/>
<line x1="503.85" y1="290.30" x2="503.85" y2="295.50" stroke="#000" stroke-width="1.45" stroke-linecap="round"/>
<line x1="501.60" y1="291.60" x2="506.10" y2="294.20" stroke="#000" stroke-width="1.45" stroke-linecap="round"/>
<line x1="501.60" y1="294.20" x2="506.10" y2="291.60" stroke="#000" stroke-width="1.45" stroke-linecap="round"/>
<line x1="509.70" y1="290.30" x2="509.70" y2="295.50" stroke="#000" stroke-width="1.45" stroke-linecap="round"/>
<line x1="507.45" y1="291.60" x2="511.95" y2="294.20" stroke="#000" stroke-width="1.45" stroke-linecap="round"/>
<line x1="507.45" y1="294.20" x2="511.95" y2="291.60" stroke="#000" stroke-width="1.45" stroke-linecap="round"/>
<line x1="515.55" y1="290.30" x2="515.55" y2="295.50" stroke="#000" stroke-width="1.45" stroke-linecap="round"/>
<line x1="513.30" y1="291.60" x2="517.80" y2="294.20" stroke="#000" stroke-width="1.45" stroke-linecap="round"/>
<line x1="513.30" y1="294.20" x2="517.80" y2="291.60" stroke="#000" stroke-width="1.45" stroke-linecap="round"/>
<line x1="509.70" y1="396.20" x2="509.70" y2="399.20" stroke="#222" stroke-width="0.9"/>
<text x="511.00" y="405.70" font-size="8.3" text-anchor="end" font-weight="normal" fill="#000" transform="rotate(-45 511.00 405.70)">Period Accuracy</text>
<rect x="529.12" y="340.07" width="6.35" height="56.13" fill="rgb(91,99,172)" stroke="#3a3a4a" stroke-width="0.5"/>
<line x1="532.29" y1="328.50" x2="532.29" y2="351.65" stroke="#555" stroke-width="0.75"/>
<line x1="530.50" y1="351.65" x2="534.09" y2="351.65" stroke="#555" stroke-width="0.75"/>
<line x1="530.50" y1="328.50" x2="534.09" y2="328.50" stroke="#555" stroke-width="0.75"/>
<rect x="539.47" y="379.01" width="6.35" height="17.19" fill="rgb(178,79,101)" stroke="#3a3a4a" stroke-width="0.5"/>
<path d="M532.29,313.00 L532.29,300.9 L542.64,300.9 L542.64,353.80" fill="none" stroke="#333" stroke-width="0.9"/>
<line x1="531.62" y1="290.30" x2="531.62" y2="295.50" stroke="#000" stroke-width="1.45" stroke-linecap="round"/>
<line x1="529.37" y1="291.60" x2="533.87" y2="294.20" stroke="#000" stroke-width="1.45" stroke-linecap="round"/>
<line x1="529.37" y1="294.20" x2="533.87" y2="291.60" stroke="#000" stroke-width="1.45" stroke-linecap="round"/>
<line x1="537.47" y1="290.30" x2="537.47" y2="295.50" stroke="#000" stroke-width="1.45" stroke-linecap="round"/>
<line x1="535.22" y1="291.60" x2="539.72" y2="294.20" stroke="#000" stroke-width="1.45" stroke-linecap="round"/>
<line x1="535.22" y1="294.20" x2="539.72" y2="291.60" stroke="#000" stroke-width="1.45" stroke-linecap="round"/>
<line x1="543.32" y1="290.30" x2="543.32" y2="295.50" stroke="#000" stroke-width="1.45" stroke-linecap="round"/>
<line x1="541.07" y1="291.60" x2="545.57" y2="294.20" stroke="#000" stroke-width="1.45" stroke-linecap="round"/>
<line x1="541.07" y1="294.20" x2="545.57" y2="291.60" stroke="#000" stroke-width="1.45" stroke-linecap="round"/>
<line x1="537.47" y1="396.20" x2="537.47" y2="399.20" stroke="#222" stroke-width="0.9"/>
<text x="538.77" y="405.70" font-size="8.3" text-anchor="end" font-weight="normal" fill="#000" transform="rotate(-45 538.77 405.70)">Style Granularity</text>
<rect x="556.89" y="347.79" width="6.35" height="48.41" fill="rgb(91,99,172)" stroke="#3a3a4a" stroke-width="0.5"/>
<line x1="560.06" y1="339.72" x2="560.06" y2="355.86" stroke="#555" stroke-width="0.75"/>
<line x1="558.26" y1="355.86" x2="561.86" y2="355.86" stroke="#555" stroke-width="0.75"/>
<line x1="558.26" y1="339.72" x2="561.86" y2="339.72" stroke="#555" stroke-width="0.75"/>
<rect x="567.24" y="374.63" width="6.35" height="21.57" fill="rgb(178,79,101)" stroke="#3a3a4a" stroke-width="0.5"/>
<line x1="570.41" y1="365.50" x2="570.41" y2="383.75" stroke="#555" stroke-width="0.75"/>
<line x1="568.62" y1="383.75" x2="572.21" y2="383.75" stroke="#555" stroke-width="0.75"/>
<line x1="568.62" y1="365.50" x2="572.21" y2="365.50" stroke="#555" stroke-width="0.75"/>
<path d="M560.06,327.70 L560.06,300.9 L570.41,300.9 L570.41,353.80" fill="none" stroke="#333" stroke-width="0.9"/>
<line x1="559.39" y1="290.30" x2="559.39" y2="295.50" stroke="#000" stroke-width="1.45" stroke-linecap="round"/>
<line x1="557.14" y1="291.60" x2="561.64" y2="294.20" stroke="#000" stroke-width="1.45" stroke-linecap="round"/>
<line x1="557.14" y1="294.20" x2="561.64" y2="291.60" stroke="#000" stroke-width="1.45" stroke-linecap="round"/>
<line x1="565.24" y1="290.30" x2="565.24" y2="295.50" stroke="#000" stroke-width="1.45" stroke-linecap="round"/>
<line x1="562.99" y1="291.60" x2="567.49" y2="294.20" stroke="#000" stroke-width="1.45" stroke-linecap="round"/>
<line x1="562.99" y1="294.20" x2="567.49" y2="291.60" stroke="#000" stroke-width="1.45" stroke-linecap="round"/>
<line x1="571.09" y1="290.30" x2="571.09" y2="295.50" stroke="#000" stroke-width="1.45" stroke-linecap="round"/>
<line x1="568.84" y1="291.60" x2="573.34" y2="294.20" stroke="#000" stroke-width="1.45" stroke-linecap="round"/>
<line x1="568.84" y1="294.20" x2="573.34" y2="291.60" stroke="#000" stroke-width="1.45" stroke-linecap="round"/>
<line x1="565.24" y1="396.20" x2="565.24" y2="399.20" stroke="#222" stroke-width="0.9"/>
<text x="566.54" y="405.70" font-size="8.3" text-anchor="end" font-weight="normal" fill="#000" transform="rotate(-45 566.54 405.70)">Detail Richness</text>
<rect x="584.66" y="334.99" width="6.35" height="61.21" fill="rgb(91,99,172)" stroke="#3a3a4a" stroke-width="0.5"/>
<line x1="587.84" y1="325.51" x2="587.84" y2="344.46" stroke="#555" stroke-width="0.75"/>
<line x1="586.04" y1="344.46" x2="589.63" y2="344.46" stroke="#555" stroke-width="0.75"/>
<line x1="586.04" y1="325.51" x2="589.63" y2="325.51" stroke="#555" stroke-width="0.75"/>
<rect x="595.01" y="370.24" width="6.35" height="25.96" fill="rgb(178,79,101)" stroke="#3a3a4a" stroke-width="0.5"/>
<line x1="598.19" y1="359.37" x2="598.19" y2="381.12" stroke="#555" stroke-width="0.75"/>
<line x1="596.39" y1="381.12" x2="599.99" y2="381.12" stroke="#555" stroke-width="0.75"/>
<line x1="596.39" y1="359.37" x2="599.99" y2="359.37" stroke="#555" stroke-width="0.75"/>
<path d="M587.84,313.00 L587.84,300.9 L598.19,300.9 L598.19,353.80" fill="none" stroke="#333" stroke-width="0.9"/>
<line x1="587.16" y1="290.30" x2="587.16" y2="295.50" stroke="#000" stroke-width="1.45" stroke-linecap="round"/>
<line x1="584.91" y1="291.60" x2="589.41" y2="294.20" stroke="#000" stroke-width="1.45" stroke-linecap="round"/>
<line x1="584.91" y1="294.20" x2="589.41" y2="291.60" stroke="#000" stroke-width="1.45" stroke-linecap="round"/>
<line x1="593.01" y1="290.30" x2="593.01" y2="295.50" stroke="#000" stroke-width="1.45" stroke-linecap="round"/>
<line x1="590.76" y1="291.60" x2="595.26" y2="294.20" stroke="#000" stroke-width="1.45" stroke-linecap="round"/>
<line x1="590.76" y1="294.20" x2="595.26" y2="291.60" stroke="#000" stroke-width="1.45" stroke-linecap="round"/>
<line x1="598.86" y1="290.30" x2="598.86" y2="295.50" stroke="#000" stroke-width="1.45" stroke-linecap="round"/>
<line x1="596.61" y1="291.60" x2="601.11" y2="294.20" stroke="#000" stroke-width="1.45" stroke-linecap="round"/>
<line x1="596.61" y1="294.20" x2="601.11" y2="291.60" stroke="#000" stroke-width="1.45" stroke-linecap="round"/>
<line x1="593.01" y1="396.20" x2="593.01" y2="399.20" stroke="#222" stroke-width="0.9"/>
<text x="594.31" y="405.70" font-size="8.3" text-anchor="end" font-weight="normal" fill="#000" transform="rotate(-45 594.31 405.70)">Term Consistency</text>
<rect x="612.43" y="342.88" width="6.35" height="53.32" fill="rgb(91,99,172)" stroke="#3a3a4a" stroke-width="0.5"/>
<line x1="615.61" y1="333.06" x2="615.61" y2="352.70" stroke="#555" stroke-width="0.75"/>
<line x1="613.81" y1="352.70" x2="617.40" y2="352.70" stroke="#555" stroke-width="0.75"/>
<line x1="613.81" y1="333.06" x2="617.40" y2="333.06" stroke="#555" stroke-width="0.75"/>
<rect x="622.78" y="370.24" width="6.35" height="25.96" fill="rgb(178,79,101)" stroke="#3a3a4a" stroke-width="0.5"/>
<line x1="625.96" y1="359.37" x2="625.96" y2="381.12" stroke="#555" stroke-width="0.75"/>
<line x1="624.16" y1="381.12" x2="627.75" y2="381.12" stroke="#555" stroke-width="0.75"/>
<line x1="624.16" y1="359.37" x2="627.75" y2="359.37" stroke="#555" stroke-width="0.75"/>
<path d="M615.61,313.00 L615.61,300.9 L625.96,300.9 L625.96,353.80" fill="none" stroke="#333" stroke-width="0.9"/>
<line x1="614.93" y1="290.30" x2="614.93" y2="295.50" stroke="#000" stroke-width="1.45" stroke-linecap="round"/>
<line x1="612.68" y1="291.60" x2="617.18" y2="294.20" stroke="#000" stroke-width="1.45" stroke-linecap="round"/>
<line x1="612.68" y1="294.20" x2="617.18" y2="291.60" stroke="#000" stroke-width="1.45" stroke-linecap="round"/>
<line x1="620.78" y1="290.30" x2="620.78" y2="295.50" stroke="#000" stroke-width="1.45" stroke-linecap="round"/>
<line x1="618.53" y1="291.60" x2="623.03" y2="294.20" stroke="#000" stroke-width="1.45" stroke-linecap="round"/>
<line x1="618.53" y1="294.20" x2="623.03" y2="291.60" stroke="#000" stroke-width="1.45" stroke-linecap="round"/>
<line x1="626.63" y1="290.30" x2="626.63" y2="295.50" stroke="#000" stroke-width="1.45" stroke-linecap="round"/>
<line x1="624.38" y1="291.60" x2="628.88" y2="294.20" stroke="#000" stroke-width="1.45" stroke-linecap="round"/>
<line x1="624.38" y1="294.20" x2="628.88" y2="291.60" stroke="#000" stroke-width="1.45" stroke-linecap="round"/>
<line x1="620.78" y1="396.20" x2="620.78" y2="399.20" stroke="#222" stroke-width="0.9"/>
<text x="622.08" y="405.70" font-size="8.3" text-anchor="end" font-weight="normal" fill="#000" transform="rotate(-45 622.08 405.70)">Cultural Depth</text>
<rect x="640.20" y="317.27" width="6.35" height="78.93" fill="rgb(91,99,172)" stroke="#3a3a4a" stroke-width="0.5"/>
<line x1="643.38" y1="313.00" x2="643.38" y2="325.16" stroke="#555" stroke-width="0.75"/>
<line x1="641.58" y1="325.16" x2="645.17" y2="325.16" stroke="#555" stroke-width="0.75"/>
<rect x="650.55" y="348.14" width="6.35" height="48.06" fill="rgb(178,79,101)" stroke="#3a3a4a" stroke-width="0.5"/>
<line x1="653.73" y1="339.37" x2="653.73" y2="356.91" stroke="#555" stroke-width="0.75"/>
<line x1="651.93" y1="356.91" x2="655.52" y2="356.91" stroke="#555" stroke-width="0.75"/>
<line x1="651.93" y1="339.37" x2="655.52" y2="339.37" stroke="#555" stroke-width="0.75"/>
<path d="M643.38,313.00 L643.38,300.9 L653.73,300.9 L653.73,327.90" fill="none" stroke="#333" stroke-width="0.9"/>
<line x1="642.70" y1="290.30" x2="642.70" y2="295.50" stroke="#000" stroke-width="1.45" stroke-linecap="round"/>
<line x1="640.45" y1="291.60" x2="644.95" y2="294.20" stroke="#000" stroke-width="1.45" stroke-linecap="round"/>
<line x1="640.45" y1="294.20" x2="644.95" y2="291.60" stroke="#000" stroke-width="1.45" stroke-linecap="round"/>
<line x1="648.55" y1="290.30" x2="648.55" y2="295.50" stroke="#000" stroke-width="1.45" stroke-linecap="round"/>
<line x1="646.30" y1="291.60" x2="650.80" y2="294.20" stroke="#000" stroke-width="1.45" stroke-linecap="round"/>
<line x1="646.30" y1="294.20" x2="650.80" y2="291.60" stroke="#000" stroke-width="1.45" stroke-linecap="round"/>
<line x1="654.40" y1="290.30" x2="654.40" y2="295.50" stroke="#000" stroke-width="1.45" stroke-linecap="round"/>
<line x1="652.15" y1="291.60" x2="656.65" y2="294.20" stroke="#000" stroke-width="1.45" stroke-linecap="round"/>
<line x1="652.15" y1="294.20" x2="656.65" y2="291.60" stroke="#000" stroke-width="1.45" stroke-linecap="round"/>
<line x1="648.55" y1="396.20" x2="648.55" y2="399.20" stroke="#222" stroke-width="0.9"/>
<text x="649.85" y="405.70" font-size="8.3" text-anchor="end" font-weight="normal" fill="#000" transform="rotate(-45 649.85 405.70)">Logic &amp; Coherence</text>
<rect x="493.0" y="474.9" width="4" height="4.4" fill="rgb(91,99,172)" stroke="#333" stroke-width="0.45"/>
<text x="503.40" y="480.20" font-size="7.9" text-anchor="start" font-weight="normal" fill="#000" style="font-family:&quot;Liberation Serif&quot;, serif">CSN In-Domain</text>
<rect x="582.3" y="474.9" width="4" height="4.4" fill="rgb(178,79,101)" stroke="#333" stroke-width="0.45"/>
<text x="593.00" y="480.20" font-size="7.9" text-anchor="start" font-weight="normal" fill="#000" style="font-family:&quot;Liberation Serif&quot;, serif">CSN Out-of-Domain</text>
<text x="11.2" y="525.2" font-size="8.3" fill="#111">d</text>
<text x="221.9" y="525.2" font-size="8.3" fill="#111" xml:space="preserve">Key features and error types in representative  misclassification cases</text>
<rect x="18.8" y="532.9" width="664.6" height="228.4" rx="31" ry="31" fill="#e0e9f6" stroke="#aab8ec" stroke-width="1"/>
<rect x="32.8" y="544.0" width="193.4" height="206.4" rx="25" ry="25" fill="#f7f9fd" stroke="#8e99cf" stroke-width="0.8" stroke-dasharray="1.3,1.75"/>
<rect x="249.2" y="544.0" width="193.4" height="206.4" rx="25" ry="25" fill="#f7f9fd" stroke="#8e99cf" stroke-width="0.8" stroke-dasharray="1.3,1.75"/>
<rect x="471.3" y="544.0" width="193.1" height="206.4" rx="25" ry="25" fill="#f7f9fd" stroke="#8e99cf" stroke-width="0.8" stroke-dasharray="1.3,1.75"/>

<defs>
<filter id="tex" x="-5%" y="-5%" width="110%" height="110%" color-interpolation-filters="sRGB">
<feTurbulence type="fractalNoise" baseFrequency="0.42" numOctaves="3" seed="7" result="n"/>
<feColorMatrix in="n" type="matrix" values="0 1 0 0 0  0 1 0 0 0  0 1 0 0 0  0 0 0 0 1" result="g"/>
<feComposite in="SourceGraphic" in2="g" operator="arithmetic" k1="0" k2="1" k3="0.22" k4="-0.11" result="t"/>
<feComposite in="t" in2="SourceGraphic" operator="in"/>
</filter>
</defs>


<defs>
<linearGradient id="s1b" x1="0" y1="0" x2="0" y2="1"><stop offset="0" stop-color="#d6d4c8"/><stop offset="0.5" stop-color="#c0beb2"/><stop offset="1" stop-color="#9d9a8e"/></linearGradient>
<linearGradient id="s1t" x1="0" y1="0" x2="1" y2="0"><stop offset="0" stop-color="#726b5d"/><stop offset="0.5" stop-color="#8a8475"/><stop offset="1" stop-color="#6e685a"/></linearGradient>
<filter id="s1blur" x="-20%" y="-20%" width="140%" height="140%"><feGaussianBlur stdDeviation="0.7"/></filter>
</defs>
<g filter="url(#tex)">
<path d="M188.6,552.5 Q188.6,549.2 191.5,548.6 Q193.8,547.6 196.6,548.5 Q198.8,549.6 198.7,553 L198.6,561.5 Q197.8,564 195.5,564.4 L191.6,564.4 Q189.2,564 188.7,561.5 Z" fill="#6f6859"/>
<path d="M190.6,556 Q193.6,554.6 196.8,556 L196.5,562.4 Q193.6,563.8 190.9,562.4 Z" fill="#7e776a"/>
<path d="M183.6,567.5 Q185.6,563.6 191,563.2 L196.5,563.2 Q202.5,563.6 204.8,567.5 Q206.5,573.5 206,580.8 L182,580.8 Q181.2,573.5 183.6,567.5 Z" fill="url(#s1t)"/>
<path d="M189,571.8 Q194,566 199.2,571.8 Q198,577.6 194,579.4 Q190.2,577.6 189,571.8 Z" fill="#a29d91"/>
<path d="M189.5,568.5 Q194,566.4 198.5,568.5" stroke="#5f594c" stroke-width="0.7" fill="none"/>
<path d="M176,582.6 Q179,579.6 185,580.4 Q190,579.2 195,580 Q201,579.4 207,580.2 Q213,580 217.5,581.6 Q221.4,584 221.9,590 Q222.2,596.5 219.5,599.6 Q214,601.6 204,601.2 Q196,602 186,601.2 Q179.5,601 176.6,598.2 Q174.2,594.5 174.4,589.5 Q174.6,585.2 176,582.6 Z" fill="url(#s1b)"/>
<g filter="url(#s1blur)" opacity="0.5">
<path d="M180,588 Q184,586 186,590 Q185,596 182,597 Q179,594 180,588 Z" fill="#8a877c"/>
<path d="M190,592 Q195,589 198,593 Q196,597 192,597 Z" fill="#9a978c"/>
<path d="M202,587 Q207,586 208,591 Q207,596 203,595 Q201,591 202,587 Z" fill="#8e8b80"/>
<path d="M213,590 Q217,589 219,593 Q218,598 214,597 Z" fill="#878478"/>
<ellipse cx="199" cy="599" rx="8" ry="1.6" fill="#8a877b"/>
<ellipse cx="188" cy="584.5" rx="5" ry="1.6" fill="#e6e4da"/>
<ellipse cx="209" cy="584" rx="5" ry="1.5" fill="#e4e2d6"/>
</g>
<ellipse cx="180.5" cy="595.2" rx="1.9" ry="1.6" fill="#625e52"/>
</g>


<defs>
<radialGradient id="s2h" cx="0.55" cy="0.55" r="0.6"><stop offset="0" stop-color="#f1eee4"/><stop offset="0.55" stop-color="#e2dcc4"/><stop offset="1" stop-color="#bfb78f"/></radialGradient>
<linearGradient id="s2b" x1="0" y1="0" x2="0" y2="1"><stop offset="0" stop-color="#c9cad3"/><stop offset="1" stop-color="#aeb0bd"/></linearGradient>
</defs>
<g filter="url(#tex)">
<path d="M405.2,559 Q404.6,551.5 409.5,549.8 Q414,548.6 418.5,549.8 Q423,551.5 422.9,558.5 Q422.7,563.5 420.5,566 L407.8,566 Q405.6,563 405.2,559 Z" fill="url(#s2h)"/>
<path d="M410.2,555 Q414,552.4 418,555 L417.6,562 Q414,564.6 410.6,562 Z" fill="#f2efe6"/>
<path d="M398.3,562 Q399.2,557.5 402,557.8 Q404.4,560 404,566 Q403.6,571.5 402.3,574.2 L400.2,573.8 Q398.1,568 398.3,562 Z" fill="#b9b399"/>
<path d="M405,566.8 Q408.5,564 414,564.2 Q420.5,564.5 424,568.2 Q426.5,573 427,580 Q427,584.5 424,586 L406.5,586 Q403.6,582 403.8,575 Q404,570 405,566.8 Z" fill="#e3e1db"/>
<path d="M400.8,573 Q403.5,571.5 405.6,574 L405,584 L401.2,584.5 Q399.8,579 400.8,573 Z" fill="#d5d3cc"/>
<path d="M422.5,570 Q426.5,569.5 428.5,574 Q429.5,579.5 427,583.5 L423.5,582 Z" fill="#d8d5cd"/>
<path d="M409.5,577.5 Q415,574.8 420,578.2 Q419,583.5 414.5,584.4 Q410.2,583 409.5,577.5 Z" fill="#c4c1b8"/>
<path d="M401,584 Q405,581 413,581.4 Q424,581 431.5,583.2 Q435,585 434,588.8 Q430,590.8 418,590.6 Q405,590.8 400.6,589 Q399,586.5 401,584 Z" fill="#cdced7"/>
<path d="M391.5,591.5 Q395,588.6 403,589 Q420,588.8 433.5,589.4 Q440,590.5 440.3,595 Q440,599.8 433.5,600.7 Q420,601.3 405,601 Q393,600.8 390,597.5 Q389.2,593.8 391.5,591.5 Z" fill="url(#s2b)"/>
<path d="M400.2,582 Q403.6,580 405.6,583.2 Q410,590 414.2,596.5 Q416.4,597 418.6,598.6 Q419.2,601 416,601.2 Q412.5,601 410.5,599 Q405,591 401,585.6 Z" fill="#8a92bd"/>
</g>


<defs>
<radialGradient id="s3h" cx="0.5" cy="0.55" r="0.62"><stop offset="0" stop-color="#b9aba2"/><stop offset="0.7" stop-color="#9d8b81"/><stop offset="1" stop-color="#8a776d"/></radialGradient>
<linearGradient id="s3b" x1="0" y1="0" x2="0" y2="1"><stop offset="0" stop-color="#c4b8b3"/><stop offset="1" stop-color="#cdc6c4"/></linearGradient>
</defs>
<g filter="url(#tex)">
<path d="M618.6,559 Q618.8,551 626,549 Q633.5,547.4 641,548.6 Q648.6,551 648.9,559 Q649,565.5 645,569.5 L622.5,569.5 Q618.4,566 618.6,559 Z" fill="url(#s3h)"/>
<path d="M620.5,556 Q621.5,550.8 627,549.6 Q631,549 633,549.6 Q627,551.5 624.5,556.5 Q622.5,560 621.2,559.5 Z" fill="#6f5c53"/>
<ellipse cx="626" cy="559" rx="3.6" ry="4.2" fill="none" stroke="#7d6a60" stroke-width="0.9"/>
<ellipse cx="642.5" cy="559" rx="3.6" ry="4.2" fill="none" stroke="#7d6a60" stroke-width="0.9"/>
<path d="M629.5,554 Q634.2,551.8 639,554 L639.2,565.5 Q634.2,568.4 629.3,565.5 Z" fill="#bcaea5"/>
<path d="M630.5,557.5 L633,557.5 M635.5,557.5 L638,557.5 M631.5,562.5 Q634.2,564 637,562.5" stroke="#6f5e56" stroke-width="0.8" fill="none"/>
<path d="M623,569 Q627,566.8 634,566.8 Q642,566.8 645.5,569.5 Q647,572.5 645.5,577 Q644.5,582.5 644.2,589 L624.5,589 Q623.2,582 621.8,576 Q621,571.5 623,569 Z" fill="url(#s3b)"/>
<path d="M644.5,570.5 Q647.5,568 649.6,570 Q648.6,573.8 646,575.6 Z" fill="#cfc7c4"/>
<path d="M619.6,571.5 Q622.5,569 625,571 L627.5,577.5 Q623.5,578.5 621,576.5 Q619.4,574 619.6,571.5 Z" fill="#c3b6b1"/>
<path d="M621.6,572.6 Q624.3,571.2 626.5,573.8 L625.8,576.8 Q622.8,576.4 621.6,572.6 Z" fill="#9b675d"/>
<path d="M627,579 Q634,577 641,579 L640.5,587 Q634,588.6 627.5,587 Z" fill="#b9aeaa"/>
<path d="M624.2,588 L631,588 Q630,594 627,598 Q622.5,601.9 615.8,601.3 Q614.5,599.5 617,597 Q621.5,593 624.2,588 Z" fill="#cec7c5"/>
<path d="M635,588 L644.4,588 Q644,594 646,598.6 Q644.4,600.6 639.2,599.6 Q636.4,596 635,588 Z" fill="#c8c1bf"/>
<path d="M631,588.5 L635,588.5 L634.5,596 L631.5,596 Z" fill="#d5cfcd"/>
</g>

<text x="48.40" y="561.00" font-size="8.3" fill="#000" stroke="#000" stroke-width="0.12" xml:space="preserve"><tspan font-weight="bold">Sample 01: Vairocana</tspan></text>
<text x="48.40" y="570.95" font-size="8.3" fill="#000" stroke="#000" stroke-width="0.12" xml:space="preserve"><tspan font-weight="normal">Expert reference:</tspan></text>
<text x="48.40" y="580.90" font-size="8.3" fill="#000" stroke="#000" stroke-width="0.12" xml:space="preserve"><tspan font-weight="normal">Five-Buddha crown,</tspan></text>
<text x="48.40" y="590.85" font-size="8.3" fill="#000" stroke="#000" stroke-width="0.12" xml:space="preserve"><tspan font-weight="normal">turning-the-wheel mudrā,</tspan></text>
<text x="48.40" y="600.80" font-size="8.3" fill="#000" stroke="#000" stroke-width="0.12" xml:space="preserve"><tspan font-weight="normal">large lotus base, triple neck lines.</tspan></text>
<text x="48.40" y="610.75" font-size="8.3" fill="#000" stroke="#000" stroke-width="0.12" xml:space="preserve"><tspan font-weight="normal">Identity: Identifiable as Vairocana Buddha</tspan></text>
<text x="48.40" y="620.70" font-size="8.3" fill="#000" stroke="#000" stroke-width="0.12" xml:space="preserve"><tspan font-weight="normal">through symbolic and stylistic features.</tspan></text>
<text x="48.40" y="630.65" font-size="8.3" fill="#000" stroke="#000" stroke-width="0.12" xml:space="preserve"><tspan font-weight="bold">CSN:</tspan><tspan font-weight="normal"> Yuan, Complex decoration, layered</tspan></text>
<text x="48.40" y="640.60" font-size="8.3" fill="#000" stroke="#000" stroke-width="0.12" xml:space="preserve"><tspan font-weight="normal">drapery, reverent posture.</tspan></text>
<text x="66.60" y="650.55" font-size="8.3" fill="#000" stroke="#000" stroke-width="0.12" xml:space="preserve"><tspan font-weight="normal">Lacks key iconography (e.g., five-</tspan></text>
<text x="66.60" y="660.50" font-size="8.3" fill="#000" stroke="#000" stroke-width="0.12" xml:space="preserve"><tspan font-weight="normal">Buddha crown), lacks doctrinal context.</tspan></text>
<text x="48.40" y="680.40" font-size="8.3" fill="#000" stroke="#000" stroke-width="0.12" xml:space="preserve"><tspan font-weight="normal">GPT-4o:Song, Flowing robes, serene</tspan></text>
<text x="48.40" y="690.35" font-size="8.3" fill="#000" stroke="#000" stroke-width="0.12" xml:space="preserve"><tspan font-weight="normal">expression, realistic lotus carving.</tspan></text>
<text x="48.40" y="700.30" font-size="8.3" fill="#000" stroke="#000" stroke-width="0.12" xml:space="preserve"><tspan font-weight="normal">Claude 3.5: Northern Song, Rounded face,</tspan></text>
<text x="48.40" y="710.25" font-size="8.3" fill="#000" stroke="#000" stroke-width="0.12" xml:space="preserve"><tspan font-weight="normal">naturalistic robe folds, calm seated posture.</tspan></text>
<text x="66.60" y="720.20" font-size="8.3" fill="#000" stroke="#000" stroke-width="0.12" xml:space="preserve"><tspan font-weight="normal">Over-relies on visual realism(e.g., robe</tspan></text>
<text x="66.60" y="730.15" font-size="8.3" fill="#000" stroke="#000" stroke-width="0.12" xml:space="preserve"><tspan font-weight="normal">flow, gentle face), ignores religious</tspan></text>
<text x="66.60" y="740.10" font-size="8.3" fill="#000" stroke="#000" stroke-width="0.12" xml:space="preserve"><tspan font-weight="normal">symbolism.</tspan></text>
<text x="264.30" y="561.00" font-size="8.3" fill="#000" stroke="#000" stroke-width="0.12" xml:space="preserve"><tspan font-weight="bold">Sample 05: Zambala</tspan></text>
<text x="264.30" y="570.95" font-size="8.3" fill="#000" stroke="#000" stroke-width="0.12" xml:space="preserve"><tspan font-weight="normal">Expert reference:</tspan><tspan x="334.30" font-weight="normal">Rotund body,</tspan></text>
<text x="264.30" y="580.90" font-size="8.3" fill="#000" stroke="#000" stroke-width="0.12" xml:space="preserve"><tspan font-weight="normal">flaming aureole,</tspan></text>
<text x="264.30" y="590.85" font-size="8.3" fill="#000" stroke="#000" stroke-width="0.12" xml:space="preserve"><tspan font-weight="normal">mongoose spitting jewels,</tspan></text>
<text x="264.30" y="600.80" font-size="8.3" fill="#000" stroke="#000" stroke-width="0.12" xml:space="preserve"><tspan font-weight="normal">tantric wealth deity.</tspan></text>
<text x="264.30" y="610.75" font-size="8.3" fill="#000" stroke="#000" stroke-width="0.12" xml:space="preserve"><tspan font-weight="normal">Identity: A tantric wealth deity in Tibetan</tspan></text>
<text x="264.30" y="620.70" font-size="8.3" fill="#000" stroke="#000" stroke-width="0.12" xml:space="preserve"><tspan font-weight="normal">Buddhism, linked to abundance and ritual</tspan></text>
<text x="264.30" y="630.65" font-size="8.3" fill="#000" stroke="#000" stroke-width="0.12" xml:space="preserve"><tspan font-weight="normal">prosperity.</tspan></text>
<text x="264.30" y="640.60" font-size="8.3" fill="#000" stroke="#000" stroke-width="0.12" xml:space="preserve"><tspan font-weight="bold">CSN:</tspan><tspan font-weight="normal"> Yuan, Complex decoration, layered</tspan></text>
<text x="264.30" y="650.55" font-size="8.3" fill="#000" stroke="#000" stroke-width="0.12" xml:space="preserve"><tspan font-weight="normal">drapery, reverent posture.</tspan></text>
<text x="285.40" y="660.50" font-size="8.3" fill="#000" stroke="#000" stroke-width="0.12" xml:space="preserve"><tspan font-weight="normal">Misses esoteric symbols (mongoose) ,</tspan></text>
<text x="285.40" y="670.45" font-size="8.3" fill="#000" stroke="#000" stroke-width="0.12" xml:space="preserve"><tspan font-weight="normal">lacks doctrinal context.</tspan></text>
<text x="264.30" y="690.35" font-size="8.3" fill="#000" stroke="#000" stroke-width="0.12" xml:space="preserve"><tspan font-weight="normal">GPT-4o:Song, Flowing robes, serene</tspan></text>
<text x="264.30" y="700.30" font-size="8.3" fill="#000" stroke="#000" stroke-width="0.12" xml:space="preserve"><tspan font-weight="normal">expression, realistic lotus carving.</tspan></text>
<text x="264.30" y="710.25" font-size="8.3" fill="#000" stroke="#000" stroke-width="0.12" xml:space="preserve"><tspan font-weight="normal">Claude 3.5: Northern Song, Rounded face,</tspan></text>
<text x="264.30" y="720.20" font-size="8.3" fill="#000" stroke="#000" stroke-width="0.12" xml:space="preserve"><tspan font-weight="normal">naturalistic robe folds, calm seated posture.</tspan></text>
<text x="285.40" y="730.15" font-size="8.3" fill="#000" stroke="#000" stroke-width="0.12" xml:space="preserve"><tspan font-weight="normal">Misreads bulk and facial features as</tspan></text>
<text x="285.40" y="740.10" font-size="8.3" fill="#000" stroke="#000" stroke-width="0.12" xml:space="preserve"><tspan font-weight="normal">Tang; neglects tantric symbolism.</tspan></text>
<text x="482.80" y="561.00" font-size="8.3" fill="#000" stroke="#000" stroke-width="0.12" xml:space="preserve"><tspan font-weight="bold">Sample 22: Mahākāla</tspan></text>
<text x="482.80" y="570.95" font-size="8.3" fill="#000" stroke="#000" stroke-width="0.12" xml:space="preserve"><tspan font-weight="normal">Expert reference:</tspan><tspan x="552.60" font-weight="normal">wrathful protector,</tspan></text>
<text x="482.80" y="580.90" font-size="8.3" fill="#000" stroke="#000" stroke-width="0.12" xml:space="preserve"><tspan font-weight="normal">skull necklace, flaming halo,</tspan></text>
<text x="482.80" y="590.85" font-size="8.3" fill="#000" stroke="#000" stroke-width="0.12" xml:space="preserve"><tspan font-weight="normal">trampling posture.</tspan></text>
<text x="482.80" y="600.80" font-size="8.3" fill="#000" stroke="#000" stroke-width="0.12" xml:space="preserve"><tspan font-weight="normal">Identity: defender of Dharma,</tspan></text>
<text x="482.80" y="610.75" font-size="8.3" fill="#000" stroke="#000" stroke-width="0.12" xml:space="preserve"><tspan font-weight="normal">wrathful manifestation of Avalokiteśvara.</tspan></text>
<text x="482.80" y="620.70" font-size="8.3" fill="#000" stroke="#000" stroke-width="0.12" xml:space="preserve"><tspan font-weight="bold">CSN:</tspan><tspan font-weight="normal"> Yuan, misreads wrath as wisdom, omits</tspan></text>
<text x="482.80" y="630.65" font-size="8.3" fill="#000" stroke="#000" stroke-width="0.12" xml:space="preserve"><tspan font-weight="normal">key protector symbols</tspan></text>
<text x="503.60" y="640.60" font-size="8.3" fill="#000" stroke="#000" stroke-width="0.12" xml:space="preserve"><tspan font-weight="normal">Confuses wrathful symbolism with</tspan></text>
<text x="503.60" y="650.55" font-size="8.3" fill="#000" stroke="#000" stroke-width="0.12" xml:space="preserve"><tspan font-weight="normal">peaceful traits, ignores violent visual</tspan></text>
<text x="503.60" y="660.50" font-size="8.3" fill="#000" stroke="#000" stroke-width="0.12" xml:space="preserve"><tspan font-weight="normal">codes, doctrinal error.</tspan></text>
<text x="482.80" y="680.40" font-size="8.3" fill="#000" stroke="#000" stroke-width="0.12" xml:space="preserve"><tspan font-weight="normal">GPT-4o: Tang, Dynamic posture, muscular form,</tspan></text>
<text x="482.80" y="690.35" font-size="8.3" fill="#000" stroke="#000" stroke-width="0.12" xml:space="preserve"><tspan font-weight="normal">dramatic expression.</tspan></text>
<text x="482.80" y="700.30" font-size="8.3" fill="#000" stroke="#000" stroke-width="0.12" xml:space="preserve"><tspan font-weight="normal">Claude 3.5: Southern Song, Stylized anatomy,</tspan></text>
<text x="482.80" y="710.25" font-size="8.3" fill="#000" stroke="#000" stroke-width="0.12" xml:space="preserve"><tspan font-weight="normal">strong contrasts, vivid carving.</tspan></text>
<text x="503.60" y="720.20" font-size="8.3" fill="#000" stroke="#000" stroke-width="0.12" xml:space="preserve"><tspan font-weight="normal">Focuses on dramatic anatomy,</tspan></text>
<text x="503.60" y="730.15" font-size="8.3" fill="#000" stroke="#000" stroke-width="0.12" xml:space="preserve"><tspan font-weight="normal">misinterprets wrathful energy as realism,</tspan></text>
<text x="503.60" y="740.10" font-size="8.3" fill="#000" stroke="#000" stroke-width="0.12" xml:space="preserve"><tspan font-weight="normal">lacks symbolic comprehension</tspan></text>
<path d="M61.05,653.07 A7.5,7.5 0 1 1 60.50,646.75" fill="none" stroke="#222" stroke-width="0.85"/>
<line x1="60.80" y1="653.67" x2="61.27" y2="652.60" stroke="#222" stroke-width="0.7"/>
<path d="M51.70,648.20 L56.30,652.80 M56.30,648.20 L51.70,652.80" stroke="#111" stroke-width="0.9" fill="none"/>
<line x1="59.40" y1="655.90" x2="64.40" y2="660.90" stroke="#000" stroke-width="2.6" stroke-linecap="round"/>
<path d="M60.55,728.67 A7.5,7.5 0 1 1 60.00,722.35" fill="none" stroke="#222" stroke-width="0.85"/>
<line x1="60.30" y1="729.27" x2="60.77" y2="728.20" stroke="#222" stroke-width="0.7"/>
<path d="M51.20,723.80 L55.80,728.40 M55.80,723.80 L51.20,728.40" stroke="#111" stroke-width="0.9" fill="none"/>
<line x1="58.90" y1="731.50" x2="63.90" y2="736.50" stroke="#222" stroke-width="2.7" stroke-linecap="butt"/>
<line x1="58.60" y1="731.20" x2="63.90" y2="736.50" stroke="#f7f9fd" stroke-width="1.3"/>
<path d="M277.35,662.87 A7.5,7.5 0 1 1 276.80,656.55" fill="none" stroke="#222" stroke-width="0.85"/>
<line x1="277.10" y1="663.47" x2="277.57" y2="662.40" stroke="#222" stroke-width="0.7"/>
<path d="M268.00,658.00 L272.60,662.60 M272.60,658.00 L268.00,662.60" stroke="#111" stroke-width="0.9" fill="none"/>
<line x1="275.70" y1="665.70" x2="280.70" y2="670.70" stroke="#000" stroke-width="2.6" stroke-linecap="round"/>
<path d="M277.35,732.27 A7.5,7.5 0 1 1 276.80,725.95" fill="none" stroke="#222" stroke-width="0.85"/>
<line x1="277.10" y1="732.87" x2="277.57" y2="731.80" stroke="#222" stroke-width="0.7"/>
<path d="M268.00,727.40 L272.60,732.00 M272.60,727.40 L268.00,732.00" stroke="#111" stroke-width="0.9" fill="none"/>
<line x1="275.70" y1="735.10" x2="280.70" y2="740.10" stroke="#222" stroke-width="2.7" stroke-linecap="butt"/>
<line x1="275.40" y1="734.80" x2="280.70" y2="740.10" stroke="#f7f9fd" stroke-width="1.3"/>
<path d="M495.65,649.17 A7.5,7.5 0 1 1 495.10,642.85" fill="none" stroke="#222" stroke-width="0.85"/>
<line x1="495.40" y1="649.77" x2="495.87" y2="648.70" stroke="#222" stroke-width="0.7"/>
<path d="M486.30,644.30 L490.90,648.90 M490.90,644.30 L486.30,648.90" stroke="#111" stroke-width="0.9" fill="none"/>
<line x1="494.00" y1="652.00" x2="499.00" y2="657.00" stroke="#000" stroke-width="2.6" stroke-linecap="round"/>
<path d="M495.85,728.37 A7.5,7.5 0 1 1 495.30,722.05" fill="none" stroke="#222" stroke-width="0.85"/>
<line x1="495.60" y1="728.97" x2="496.07" y2="727.90" stroke="#222" stroke-width="0.7"/>
<path d="M486.50,723.50 L491.10,728.10 M491.10,723.50 L486.50,728.10" stroke="#111" stroke-width="0.9" fill="none"/>
<line x1="494.20" y1="731.20" x2="499.20" y2="736.20" stroke="#222" stroke-width="2.7" stroke-linecap="butt"/>
<line x1="493.90" y1="730.90" x2="499.20" y2="736.20" stroke="#f7f9fd" stroke-width="1.3"/>
</svg>
</body></html>
